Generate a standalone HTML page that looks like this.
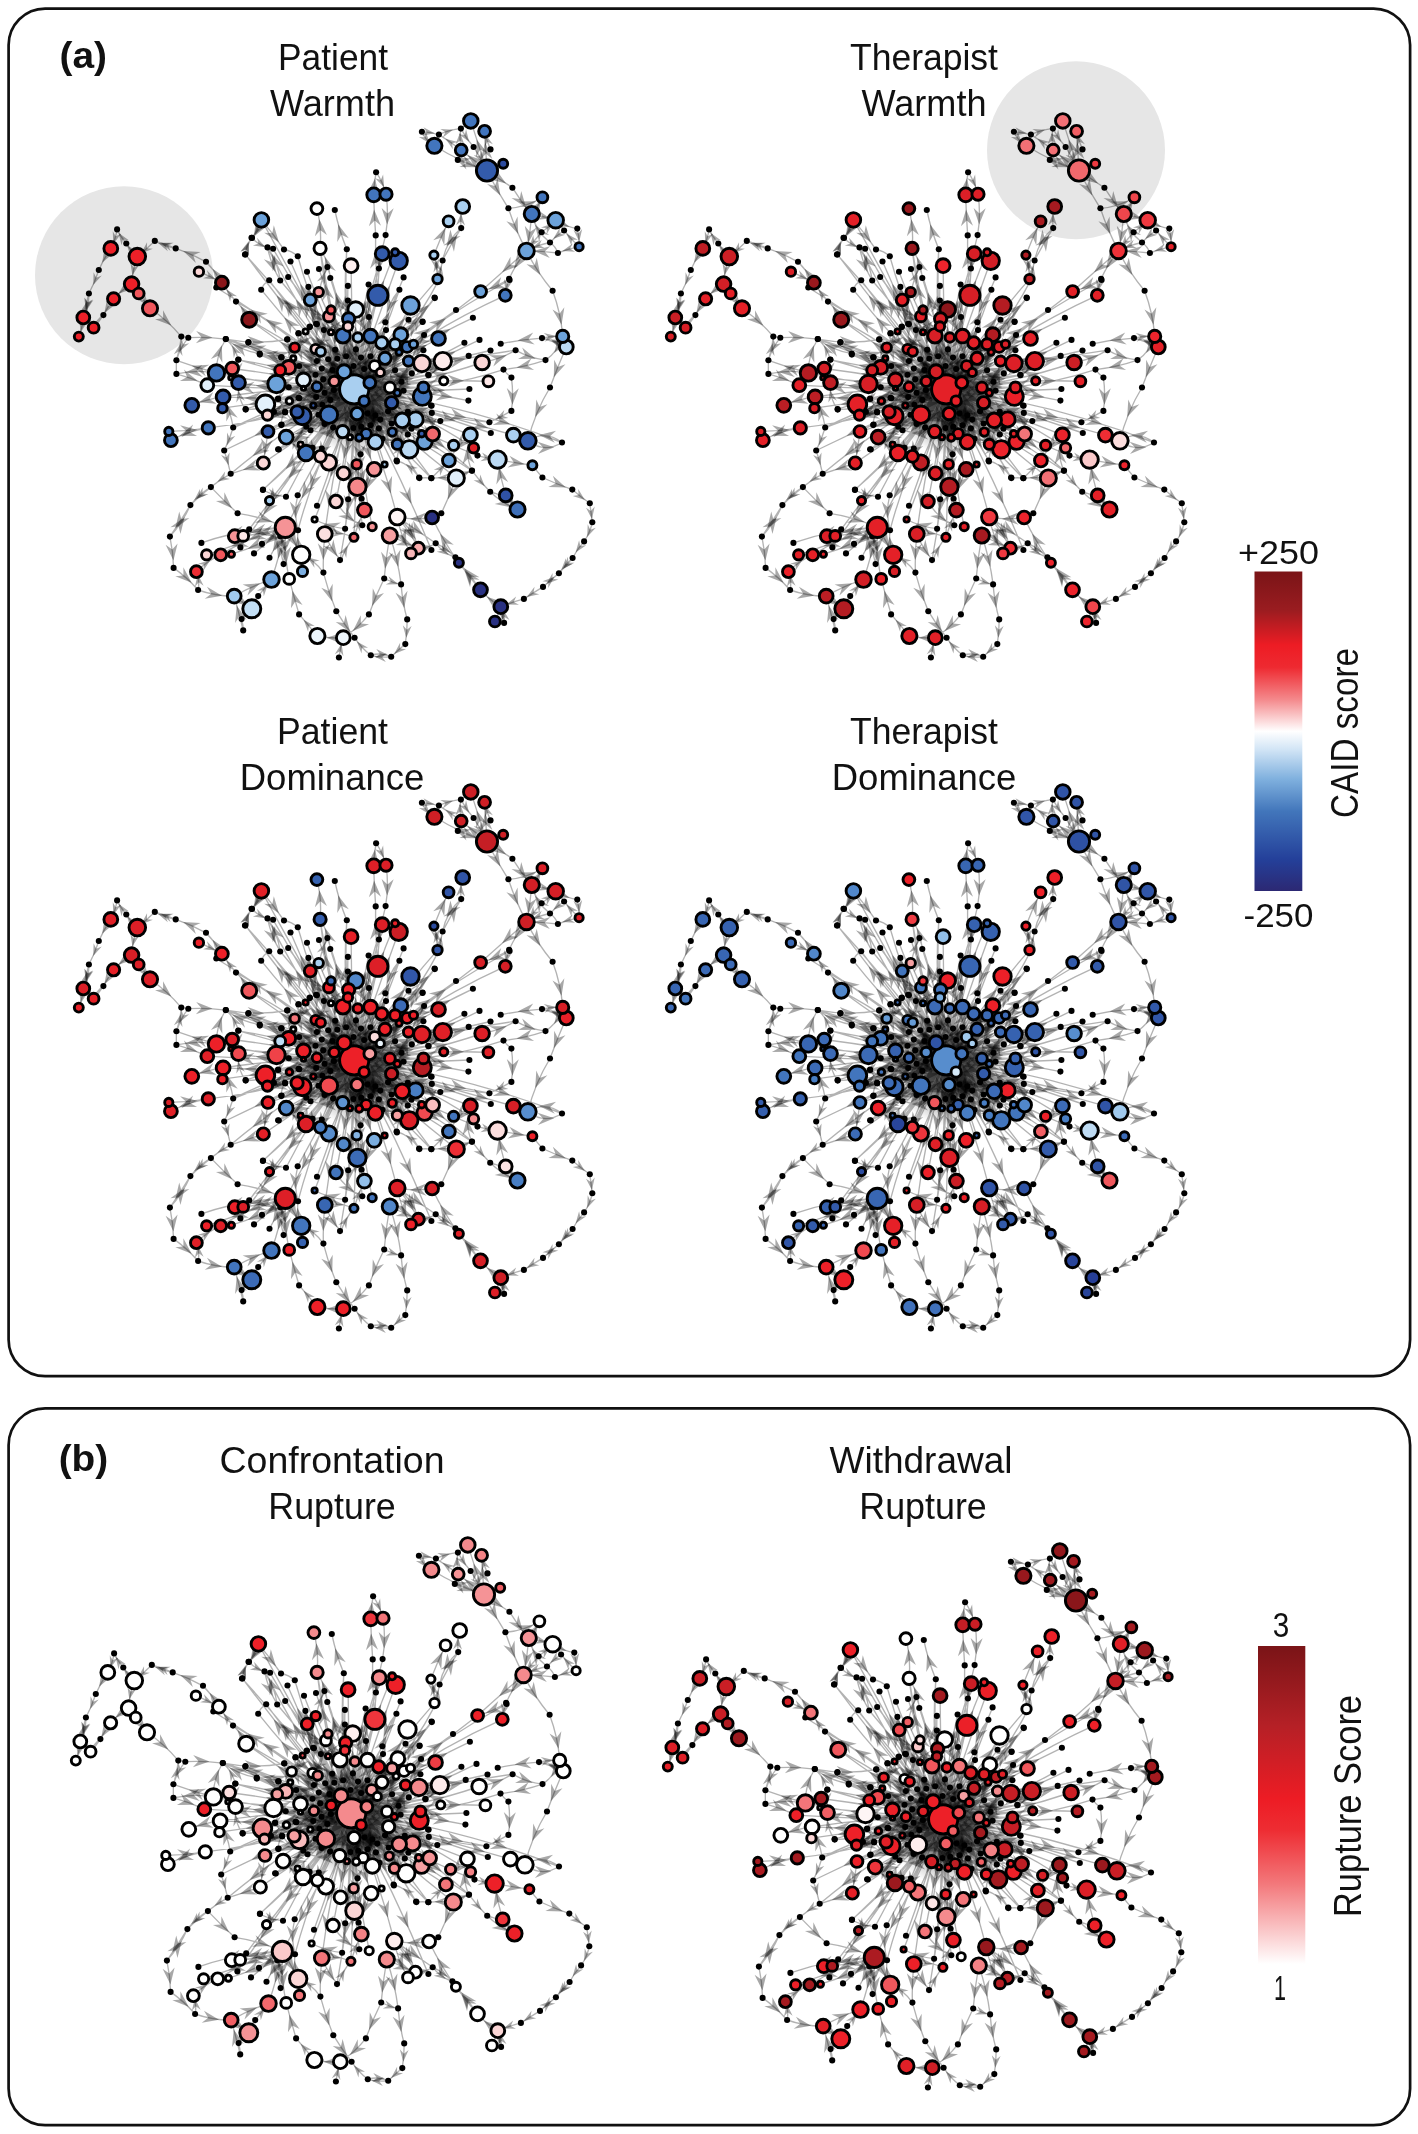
<!DOCTYPE html>
<html><head><meta charset="utf-8"><title>Figure</title>
<style>html,body{margin:0;padding:0;background:#fff}svg{display:block;filter:blur(.35px)}text{font-family:"Liberation Sans",sans-serif;fill:#111}</style>
</head><body>
<svg width="1418" height="2134" viewBox="0 0 1418 2134">
<defs>
<linearGradient id="g1" x1="0" y1="0" x2="0" y2="1">
<stop offset="0" stop-color="#7a1417"/><stop offset=".12" stop-color="#9a1c20"/><stop offset=".23" stop-color="#ed1c24"/><stop offset=".3" stop-color="#ee2a31"/><stop offset=".4" stop-color="#f4888b"/><stop offset=".5" stop-color="#ffffff"/>
<stop offset=".56" stop-color="#cfe3f5"/><stop offset=".65" stop-color="#7fb0de"/><stop offset=".75" stop-color="#4276bb"/><stop offset=".9" stop-color="#24409a"/><stop offset="1" stop-color="#2c2873"/>
</linearGradient>
<linearGradient id="g2" x1="0" y1="0" x2="0" y2="1">
<stop offset="0" stop-color="#7a1417"/><stop offset=".25" stop-color="#b52026"/><stop offset=".48" stop-color="#ed1c24"/><stop offset=".58" stop-color="#ee2d33"/><stop offset=".75" stop-color="#f3797c"/><stop offset="1" stop-color="#ffffff"/>
</linearGradient>
<radialGradient id="cg"><stop offset="0" stop-color="#000" stop-opacity=".78"/><stop offset=".4" stop-color="#000" stop-opacity=".58"/><stop offset=".7" stop-color="#000" stop-opacity=".22"/><stop offset="1" stop-color="#000" stop-opacity="0"/></radialGradient>
<path id="ah" d="M7 0L-8 -5.5L-3 0L-8 5.5Z"/>
<g id="net"><circle cx="358.2" cy="397.3" r="58" fill="url(#cg)"/><path d="M354.2 389.3Q300 357.1 249.2 319.7M354.2 389.3Q284.5 387.8 216.4 372.9M354.2 389.3Q293.6 376.3 232.2 368.5M354.2 389.3Q295.9 392.9 238.5 382.6M354.2 389.3Q292.6 382.9 230.8 377.8M354.2 389.3Q280.7 390 207.3 385.2M354.2 389.3Q289.1 401.2 223.1 396.9M354.2 389.3Q288.3 398.6 222.4 408.2M354.2 389.3Q328 321.1 320.1 248.4M354.2 389.3Q351.5 327.5 351.1 265.7M354.2 389.3Q360 319.8 382.2 253.7M354.2 389.3Q366.8 318.5 395.1 252.3M354.2 389.3Q375.1 324.6 398.7 260.8M354.2 389.3Q340.9 339.1 318.7 292.1M354.2 389.3Q361.1 341.1 377.9 295.3M354.2 389.3Q391.6 331 437.5 279.1M354.2 389.3Q333.8 343.9 310.2 300M354.2 389.3Q387.6 350.9 410.5 305.5M354.2 389.3Q355.8 349.5 355.7 309.6M354.2 389.3Q341.5 349.9 331 309.9M354.2 389.3Q346.4 351.2 328.9 316.4M354.2 389.3Q346.9 354.4 348.6 318.8M354.2 389.3Q354.2 357.6 347.9 326.5M354.2 389.3Q344.3 358.6 347.9 326.5M354.2 389.3Q345.7 363.1 343 335.7M354.2 389.3Q353.7 361.4 343 335.7M354.2 389.3Q353.7 363.2 357.8 337.5M354.2 389.3Q363.4 363 370.5 336.1M354.2 389.3Q368.3 366.2 381.7 342.8M354.2 389.3Q361.8 362.4 381.7 342.8M354.2 389.3Q375.3 360.1 400.8 334.7M354.2 389.3Q375.8 367.8 395.1 344.2M354.2 389.3Q379.5 366.8 407.1 347M354.2 389.3Q383.6 366.4 413.5 344.2M354.2 389.3Q394.9 361.5 438.5 338.5M354.2 389.3Q378.2 372.6 399.1 352.2M354.2 389.3Q368.5 372.7 385 358.3M354.2 389.3Q381.4 375.4 408.5 361.1M354.2 389.3Q388.9 378.5 421.9 363.4M354.2 389.3Q397.7 372.6 442.8 361.1M354.2 389.3Q366 379 374.7 366M354.2 389.3Q363.9 377.1 374.7 366M354.2 389.3Q367.9 381.8 380.3 372.4M354.2 389.3Q367.2 380.8 380.3 372.4M354.2 389.3Q338.9 362.2 331 332.2M354.2 389.3Q332 358.6 305.6 331.5M354.2 389.3Q324.9 367.8 294.7 347.6M354.2 389.3Q337 367.2 315.5 349.1M354.2 389.3Q337.2 366.9 315.5 349.1M354.2 389.3Q337.9 370 320.7 351.6M354.2 389.3Q323.6 374.2 293.3 358.3M354.2 389.3Q318.4 375.2 280.2 370.3M354.2 389.3Q321.4 378.6 288.7 367.4M354.2 389.3Q315 391.4 276.5 384M354.2 389.3Q329.1 383.2 303.5 379.9M354.2 389.3Q328.9 385.3 303.5 388.3M354.2 389.3Q335.5 389.2 316.9 386.8M354.2 389.3Q344.4 384.8 334.2 381.3M354.2 389.3Q344.1 385.5 334.2 381.3M354.2 389.3Q348.3 381 344.1 371.7M354.2 389.3Q346.8 381.8 344.1 371.7M354.2 389.3Q362.2 386.6 369.8 382.7M354.2 389.3Q361.5 384.8 369.8 382.7M354.2 389.3Q359.3 395 364.1 401M354.2 389.3Q371.9 386.3 389.9 387.5M354.2 389.3Q372.8 396.3 391.6 402.7M354.2 389.3Q375.6 393 397.3 392.8M354.2 389.3Q388.7 386.2 423.4 387.4M354.2 389.3Q388.4 391.5 422.3 396.4M354.2 389.3Q308.8 391.1 265.4 404.3M354.2 389.3Q312.1 406.4 267.5 415.1M354.2 389.3Q322.3 398.1 289.4 401M354.2 389.3Q322.7 400.3 289.4 401M354.2 389.3Q333.8 397.5 313.3 405.5M354.2 389.3Q326.4 402.5 297.1 411.9M354.2 389.3Q326.2 402 297.1 411.9M354.2 389.3Q328.8 403.6 302.4 416M354.2 389.3Q339.9 400.4 328.9 414.7M354.2 389.3Q355.6 401.5 357.1 413.7M354.2 389.3Q310.1 408.3 268 431.5M354.2 389.3Q323.2 417.5 286.2 437.2M354.2 389.3Q376.5 407.5 402.2 420.3M354.2 389.3Q383.3 407.6 415.6 419.4M354.2 389.3Q349.1 410.6 342.7 431.6M354.2 389.3Q362.7 410.8 366.2 433.7M354.2 389.3Q359.7 413.2 359.2 437.7M354.2 389.3Q360.9 413.1 359.2 437.7M354.2 389.3Q354.4 413.5 350 437.3M354.2 389.3Q358.5 413.9 350 437.3M354.2 389.3Q368.5 414.1 375.4 441.9M354.2 389.3Q371.1 413.1 375.4 441.9M354.2 389.3Q374.1 409.9 392.3 432M354.2 389.3Q368.5 414.9 392.3 432M354.2 389.3Q374.9 417.5 397.3 444.3M354.2 389.3Q379.8 413.6 397.3 444.3M354.2 389.3Q383 418.1 409.3 449.3M354.2 389.3Q388.8 410.2 421.7 433.7M354.2 389.3Q395.8 407.5 432.6 434M354.2 389.3Q386.8 419 424.5 441.8M354.2 389.3Q325.7 417.8 306 453M354.2 389.3Q327.7 417.2 300.6 444.5M354.2 389.3Q337.5 422.9 320.4 456.3M354.2 389.3Q345.8 427.4 328.9 462.5M354.2 389.3Q312.9 431.2 263.3 463M354.2 389.3Q350.7 431.5 343.5 473.3M354.2 389.3Q357.9 426.7 356.7 464.3M354.2 389.3Q360.5 430.2 374.2 469.3M354.2 389.3Q373 425.5 384.6 464.5M354.2 389.3Q362.3 437.8 357.4 486.8M354.2 389.3Q419.8 384 482.1 362.5M354.2 389.3Q399 385.4 443.7 380.8M354.2 389.3Q420.9 378.7 488.4 381.3M354.2 389.3Q412 412.8 470.4 434.9M354.2 389.3Q417.8 410.6 473.6 447.8M354.2 389.3Q433.6 412.8 513.4 435.1M354.2 389.3Q400.1 424 453.6 445.3M354.2 389.3Q397.9 429.7 448.9 460.5M354.2 389.3Q402.8 436.5 456.3 478M354.2 389.3Q315.6 447.8 269.5 500.6M354.2 389.3Q347.2 445.8 336 501.6M354.2 389.3Q340.5 456.2 314.6 519.5M354.2 389.3Q334 460.5 324.8 534M354.2 389.3Q358.7 449.7 364.4 510.1M354.2 389.3Q357.8 458.7 372.2 526.7M354.2 389.3Q357.6 463.3 353.9 537.3M354.2 389.3Q380.7 451.5 397.3 517.1M354.2 389.3Q289.7 332.4 216.3 287.5M354.2 389.3Q301.1 337.4 236 301.6M354.2 389.3Q292.4 357.9 225.7 339.1M354.2 389.3Q303.3 361.4 248.3 342.6M354.2 389.3Q297.6 369.4 238.4 359.8M354.2 389.3Q304.1 318.2 245 254.5M354.2 389.3Q305.4 321.7 267.5 247.4M354.2 389.3Q314 318.8 273.1 248.8M354.2 389.3Q297.1 324.1 245.4 254.4M354.2 389.3Q341.3 319.7 346.8 249.2M354.2 389.3Q317.2 326.5 297.8 256.3M354.2 389.3Q318.4 327.4 290.5 261.5M354.2 389.3Q362.5 328.1 378.9 268.5M354.2 389.3Q339.8 328.2 319 269M354.2 389.3Q348.6 326.5 327.4 267.1M354.2 389.3Q329.7 330.9 307 271.8M354.2 389.3Q349.1 332.2 330.3 278M354.2 389.3Q328.9 328.6 288.2 277M354.2 389.3Q324.1 330.2 280.2 280.5M354.2 389.3Q309.6 336.4 269.2 280.2M354.2 389.3Q303.8 343.1 261.2 289.7M354.2 389.3Q327.4 339.9 308.4 286.9M354.2 389.3Q346.7 337.9 347.9 285.9M354.2 389.3Q357.1 336.3 368.6 284.5M354.2 389.3Q380.8 334.2 403.6 277.4M354.2 389.3Q382.4 342 399.4 289.7M354.2 389.3Q398.8 347.2 434.6 297.5M354.2 389.3Q350.8 344.9 347.9 300.5M354.2 389.3Q382.8 355.7 408.5 319.8M354.2 389.3Q391.2 358.3 422.6 321.6M354.2 389.3Q365.9 354 385.3 322.3M354.2 389.3Q363.2 353.5 369 317M354.2 389.3Q373.5 361.5 386 330.1M354.2 389.3Q391.1 364.6 424.1 335M354.2 389.3Q335 356.6 316.2 323.7M354.2 389.3Q329.2 359.9 309.8 326.5M354.2 389.3Q328.6 359 298.5 333.3M354.2 389.3Q337.7 360.4 323.9 330.1M354.2 389.3Q324 359.8 287.2 339.2M354.2 389.3Q300.7 367.2 248.5 342.1M354.2 389.3Q306.5 372.8 259.7 353.6M354.2 389.3Q319.9 368.8 281.6 357.3M354.2 389.3Q327.4 375.9 299.2 366M354.2 389.3Q324.1 383.8 299.2 366M354.2 389.3Q334.2 377 316.9 361.1M354.2 389.3Q338.9 377.6 321.8 368.6M354.2 389.3Q340 375.8 321.8 368.6M354.2 389.3Q335.8 379.4 315.5 374.8M354.2 389.3Q338.5 385 323.2 379.4M354.2 389.3Q339.7 375.6 328.2 359.3M354.2 389.3Q345.4 370.6 328.2 359.3M354.2 389.3Q346.4 373.6 337.3 358.7M354.2 389.3Q347.1 368.4 335.2 349.8M354.2 389.3Q351.9 372.3 346.1 356.2M354.2 389.3Q352.9 377.7 353.5 366M354.2 389.3Q352.4 377.7 353.5 366M354.2 389.3Q353.6 369.3 355.9 349.4M354.2 389.3Q356.5 373.2 361 357.6M354.2 389.3Q360.6 371.9 370.5 356.2M354.2 389.3Q358.7 379 364.1 369.1M354.2 389.3Q343.5 379.4 332.4 370M354.2 389.3Q374.4 379.3 395.1 370.3M354.2 389.3Q377.9 385.6 401.5 381.8M354.2 389.3Q378.9 390.2 403.6 390.7M354.2 389.3Q378.9 389.1 403.6 390.7M354.2 389.3Q382.3 378.8 411.8 373.4M354.2 389.3Q384.4 386.5 411.8 373.4M354.2 389.3Q390.6 378.7 428.3 374.8M354.2 389.3Q388.7 369.5 423.4 350.2M354.2 389.3Q392.1 399.8 431.1 405.5M354.2 389.3Q392.8 401.7 431.8 412.9M354.2 389.3Q381.6 399.3 407.8 411.9M354.2 389.3Q371 400.5 388.1 411.2M354.2 389.3Q374.8 404.4 391.6 423.6M354.2 389.3Q367.9 408 378.9 428.4M354.2 389.3Q363.4 410.9 378.9 428.4M354.2 389.3Q362.3 407.3 370.5 425.3M354.2 389.3Q360 401.8 367.6 413.3M354.2 389.3Q365 402.2 375.4 415.4M354.2 389.3Q367.2 404.5 380.3 419.6M354.2 389.3Q352.8 408.7 353.5 428.1M354.2 389.3Q357.6 408 361.3 426.7M354.2 389.3Q341.3 407 333.1 427.4M354.2 389.3Q337.6 405 324.6 423.9M354.2 389.3Q337.1 403.2 318.3 414.7M354.2 389.3Q337.4 395.1 322.5 404.8M354.2 389.3Q335.6 395.1 316.2 397.1M354.2 389.3Q335.3 393.9 316.2 397.1M354.2 389.3Q339.6 392.8 324.6 392.8M354.2 389.3Q339.8 394.8 324.6 392.8M354.2 389.3Q342 394 330.3 399.9M354.2 389.3Q344 388.5 333.8 390M354.2 389.3Q344 388.3 333.8 390M354.2 389.3Q326.2 392.3 298.5 397.8M354.2 389.3Q325.4 387.2 298.5 397.8M354.2 389.3Q315.5 388.9 278.1 398.5M354.2 389.3Q321.4 390.8 288.7 387.2M354.2 389.3Q320 401.6 285.1 411.9M354.2 389.3Q314.1 400.7 273.9 411.9M354.2 389.3Q298.5 391.8 245.6 409.1M354.2 389.3Q316.3 403.6 281.6 424.6M354.2 389.3Q332 410.3 306.3 426.7M354.2 389.3Q332.3 409.7 310.5 430.2M354.2 389.3Q336.1 413.7 310.5 430.2M354.2 389.3Q317.7 421.2 278.1 449.3M354.2 389.3Q355.4 421.9 360.6 454.2M354.2 389.3Q356.3 421.9 360.6 454.2M354.2 389.3Q376 424.5 396.6 460.5M354.2 389.3Q384 408.3 407.8 434.5M354.2 389.3Q383.7 407.7 411.4 428.8M354.2 389.3Q397.2 405.3 440.3 421.1M354.2 389.3Q392 429.4 419.1 477.5M354.2 389.3Q334 416.7 321.8 448.6M354.2 389.3Q329.5 415.9 312.6 447.9M354.2 389.3Q371.1 412.4 382.5 438.7M354.2 389.3Q375.2 410.1 382.5 438.7M354.2 389.3Q398.1 346.8 434.8 298.1M354.2 389.3Q402.6 346.4 456 310M354.2 389.3Q409.8 347.4 472.9 317.8M354.2 389.3Q387.6 354.9 422.5 322M354.2 389.3Q412 372.4 464.4 342.8M354.2 389.3Q419.1 370.2 479.5 339.9M354.2 389.3Q421 365.3 490.5 350.5M354.2 389.3Q433 361.8 515.6 350.2M354.2 389.3Q413.4 379.3 468.7 355.9M354.2 389.3Q391.5 383 428.5 375.2M354.2 389.3Q411.8 392.4 469.4 389M354.2 389.3Q411.9 388.4 468.4 400.6M354.2 389.3Q393.9 392.8 431.6 405.8M354.2 389.3Q420.9 409.3 489.4 422.2M354.2 389.3Q423 409.7 490.8 433M354.2 389.3Q461.3 403.5 562 442.5M354.2 389.3Q411.8 430 477.5 455.6M354.2 389.3Q411.5 432.2 471.9 470.7M354.2 389.3Q389 437 431.3 478.2M354.2 389.3Q425.5 325.6 509.6 280M354.2 389.3Q288.2 425.4 230.7 473.8M354.2 389.3Q314.7 445 263 489.6M354.2 389.3Q314.6 439.5 286 496.7M354.2 389.3Q326.6 442.7 297.7 495.3M354.2 389.3Q338.2 448.4 317 505.8M354.2 389.3Q296.1 467.5 240.4 547.4M354.2 389.3Q317.7 456.4 298 530.2M354.2 389.3Q322 465.2 280.3 536.2M354.2 389.3Q356 475.4 340 560.1M354.2 389.3Q301.2 459 249.2 529.4M354.2 389.3Q378.2 423.8 396.9 461.4M354.2 389.3Q391.7 430.1 419.4 478.1M354.2 389.3Q397 430 431.4 478.1M354.2 389.3Q418.2 422.5 472 470.6M354.2 389.3Q355.8 444.5 348.2 499.2M354.2 389.3Q360.8 443.9 361.6 498.8M354.2 389.3Q353.5 459.2 345.1 528.7M354.2 389.3Q353.3 457.5 362.3 525.2M354.2 389.3Q397.5 467.4 431.4 550M354.2 389.3Q290.1 364.1 225.9 339M354.2 389.3Q305.4 376.2 259.8 354.6M354.2 389.3Q295.6 376.9 238.3 359.5M354.2 389.3Q317.4 368.9 287.3 339.5M354.2 389.3Q316.6 375.9 281.2 357.4M354.2 389.3Q301.3 406.8 245.7 409.6M354.2 389.3Q292.5 404.5 233.2 427.5M354.2 389.3Q288.8 419 224.2 450.5M354.2 389.3Q312.9 443.6 262.9 490M354.2 389.3Q316.7 419.7 278.8 449.5M354.2 389.3Q315.5 402.8 281.2 425.1M354.2 389.3Q320.9 404.7 285.1 412.4M354.2 389.3Q315.7 390.8 278.1 399M354.2 389.3Q326.8 394.3 299.3 398.3M354.2 389.3Q329 358.7 298.5 333.4M354.2 389.3Q331.1 358.9 309.8 327.1M354.2 389.3Q335.6 356.7 316.9 324.2M354 389Q304.2 350.4 249.2 319.7M249.2 319.7Q244.3 309.4 236 301.6M236 301.6Q228.4 292.6 221.9 282.7M221.9 282.7Q215.3 271.2 206 261.8M206 261.8Q191.4 253.8 175.7 248.4M175.7 248.4Q165.5 244.1 154.8 240.9M154.8 240.9Q146.3 249.1 137.3 256.6M198.9 271.7Q210.7 276.5 221.9 282.7M137.3 256.6Q130.6 251 126.3 243.5M126.3 243.5Q120.7 237.1 117.1 229.4M117.1 229.4Q115.6 239.4 110.8 248.4M110.8 248.4Q103.8 258.6 98.8 270M98.8 270Q95 282.2 88.9 293.5M88.9 293.5Q87.7 305.9 83.3 317.5M83.3 317.5Q82.6 327.4 78.8 336.6M137.3 256.6Q132.6 270 131.6 284.1M131.6 284.1Q121.5 290.1 113.6 298.8M113.6 298.8Q107.9 306.6 103.4 315.1M103.4 315.1Q99 321.8 93.6 327.7M83.3 317.5Q89 322.1 93.6 327.7M131.6 284.1Q135.5 288.5 138.7 293.5M138.7 293.5Q144.5 300.8 150 308.3M150 308.3Q167.6 320.3 181.3 336.6M181.3 336.6Q184.8 337.1 188.3 337.7M188.3 337.7Q207.1 336.6 225.7 339.1M225.7 339.1Q256.5 345 287.3 339.5M188.3 337.7Q180.2 347.9 176.4 360.3M176.4 360.3Q176.3 367.1 176.4 373.9M176.4 373.9Q192.4 378 207.3 385.2M354 389Q406.9 342 439.3 279.1M439.3 279.1Q440.2 269.7 442.6 260.5M442.6 260.5Q451 243.8 461.2 228.1M461.2 228.1Q459.8 217.2 462.7 206.5M433.9 255.1Q440.4 237.9 448.6 221.3M487 170.5Q478.6 145.8 470.8 120.9M487 170.5Q485.8 150.9 484.6 131.3M487 170.5Q459.2 161.3 434.4 145.8M487 170.5Q474.1 160.3 461.2 150.1M487 170.5Q494.4 165.5 503.2 163.8M421.9 131.7Q430.5 132.3 438.9 134.6M438.9 134.6Q449.4 129.8 460.9 128.6M460.9 128.6Q465.7 124.6 470.8 120.9M434.4 145.8Q435.6 139.8 438.9 134.6M461.2 150.1Q459 139.4 460.9 128.6M473.6 147Q481.2 158.2 487 170.5M490.5 149.4Q486.6 140.7 484.6 131.3M457.8 159.9Q472.2 165.7 487 170.5M487 170.5Q499.6 179.2 512.4 187.7M512.4 187.7Q520.8 201.8 531.8 214M487 170.5Q496.5 190.1 508.4 208.3M508.4 208.3Q515.6 230.4 526.5 250.9M531.8 214Q538.4 206.5 542.4 197.3M531.8 214Q543.9 216.6 555.7 220.2M531.8 214Q530.4 232.6 526.5 250.9M555.7 220.2Q565.7 226.5 577.3 228.6M577.3 228.6Q579.5 237.5 579.1 246.7M579.1 246.7Q568.2 248.9 557.9 253M557.9 253Q542.3 251.1 526.5 250.9M555.7 220.2Q560.8 224.6 564.1 230.5M564.1 230.5Q556.2 235.6 550 242.5M550 242.5Q537.6 244.9 526.5 250.9M541.6 232.3Q533.6 241.2 526.5 250.9M541.6 232.3Q549.2 226.9 555.7 220.2M526.5 250.9Q537.1 272.4 552.6 290.7M552.6 290.7Q560.9 312.8 562.7 336.4M526.5 250.9Q503.4 271 480.6 291.5M480.6 291.5Q417.2 340.1 354 389M526.5 250.9Q515.9 263.7 509.1 278.8M509.1 278.8Q506.2 286.8 505.3 295.3M505.3 295.3Q423.5 332.3 354 389M566.3 347Q557.5 367 550 387.5M550 387.5Q534.8 412.4 527.9 440.8M566.3 347Q554.5 341.7 542 338.1M542 338.1Q521.1 339.4 500.7 343.8M545.5 360.1Q525 367.1 503.5 369.6M503.5 369.6Q430.6 393.3 354 389M511.4 377.6Q513.8 394.2 511.4 410.9M511.4 410.9Q500.7 417.2 489.4 422.2M489.4 422.2Q419.1 416.3 354 389M503.5 369.6Q506.9 374.1 511.4 377.6M497.6 459.6Q514.9 462.8 532.4 465.2M532.4 465.2Q537.1 471.6 542.4 477.5M542.4 477.5Q557 484.3 572.3 489.6M572.3 489.6Q580.6 497.1 589.8 503.3M589.8 503.3Q591.1 512.8 592.3 522.3M592.3 522.3Q590.1 532.7 584.1 541.4M584.1 541.4Q577.4 549 572.6 558M572.6 558Q565 565 558.9 573.3M558.9 573.3Q550.9 580.1 543 586.9M543 586.9Q533.4 592.8 523.9 598.9M523.9 598.9Q512.1 602.1 500.8 606.7M500.8 606.7Q489.2 600 480.5 589.8M480.5 589.8Q471 575.2 458.9 562.7M458.9 562.7Q443.3 541.4 432.1 517.5M432.1 517.5Q414.7 520.3 397.3 517.1M500.8 606.7Q498.5 614.4 494.9 621.5M500.8 606.7Q501.7 615 504.1 622.9M456.3 478Q463.7 473.4 472 470.6M472 470.6Q480.1 482 490.2 491.7M490.2 491.7Q497.6 495 505.7 495.4M505.7 495.4Q511.6 502.4 517.5 509.5M456.3 478Q449.6 496 441.3 513.3M441.3 513.3Q436.7 515.4 432.1 517.5M456.3 478Q443.8 477.1 431.4 478.1M431.4 478.1Q425.4 477.5 419.4 478.1M389.8 535.5Q386 556.9 384.2 578.5M384.2 578.5Q375.5 596 368.9 614.4M368.9 614.4Q358.1 628.2 343.3 637.7M343.3 637.7Q330.2 638.7 317.4 636M389.8 535.5Q397.9 559.4 401.1 584.4M401.1 584.4Q402.4 602.2 407.2 619.4M407.2 619.4Q407.2 631.8 405.3 644.1M405.3 644.1Q398.1 650.3 391.2 656.8M391.2 656.8Q380.9 658 370.8 655.3M370.8 655.3Q361.2 647.9 354.6 637.7M354.6 637.7Q349 638.2 343.3 637.7M324.8 534Q322.8 553.3 323.4 572.6M323.4 572.6Q328.4 592.4 336.3 611.2M336.3 611.2Q344.5 625.1 354.6 637.7M338.9 657.5Q340.3 647.4 343.3 637.7M317.4 636Q308.3 625.1 299.1 614.4M299.1 614.4Q293.9 596.7 289.2 578.9M397.3 517.1Q416.7 529.9 435.7 543.2M435.7 543.2Q446.6 548.7 455.4 557.3M455.4 557.3Q456.7 560.3 458.9 562.7M397.3 517.1Q409.7 531.4 418.4 548.2M397.3 517.1Q400.7 536.6 411 553.4M324.8 534Q330.6 548.7 341 560.5M341 560.5Q345.2 547.7 353.9 537.3M263.3 463Q247.1 468.7 230.7 473.8M230.7 473.8Q219.9 479.2 210.9 487.1M210.9 487.1Q199 494.2 190.4 505.1M190.4 505.1Q180.5 521.1 169.9 536.6M169.9 536.6Q173.2 552.1 173.6 567.9M173.6 567.9Q187.1 577.5 198.1 590M198.1 590Q215.6 596.3 234.2 596.1M234.2 596.1Q251.9 585.7 271.5 579.6M210.9 487.1Q223.8 500.6 237.6 513.3M237.6 513.3Q262.5 516.9 285.3 527.4M234.2 596.1Q242.9 602.5 251.8 608.8M251.8 608.8Q245.8 613 241.6 619.1M241.6 619.1Q243.2 624.6 243.2 630.4M251.8 608.8Q255.8 602.9 258.2 596.1M258.2 596.1Q264.9 587.9 271.5 579.6M285.3 527.4Q242.2 528.7 201.4 542.9M285.3 527.4Q259.7 529.7 234.8 536.2M285.3 527.4Q264.7 533.9 243.2 535.9M285.3 527.4Q250.8 536 220.7 554.8M285.3 527.4Q246 541.3 206.6 554.8M196.4 571.7Q206.9 560.9 220.7 554.8M285.3 527.4Q261 546.2 231.4 554.2M285.3 527.4Q269.7 540.5 254 553.4M285.3 527.4Q277.7 542.7 269.5 557.7M285.3 527.4Q285.9 545.8 283.6 564.1M285.3 527.4Q274.8 537.3 262 543.9M285.3 527.4Q294.1 540.6 301.2 554.8M285.3 527.4Q280.3 554 271.5 579.6M285.3 527.4Q283.7 553.4 289.2 578.9M301.2 554.8Q303.5 563 302.5 571.4M354 389Q288.2 386.4 223.1 396.9M223.1 396.9Q206.9 399 191.8 405.3M354 389Q284.1 419.5 208.3 427.9M208.3 427.9Q188.6 430.9 170.9 440.2M168.8 431.4Q188.7 431.3 208.3 427.9M354 389Q290.5 398.5 233.2 427.5M233.2 427.5Q229.7 439.4 224.2 450.5M224.2 450.5Q228 462 230.7 473.8M216.4 372.9Q196.1 367.5 176.4 360.3M216.4 372.9Q196.3 369.4 176.4 373.9M354 389Q367.6 342.6 377.9 295.3M377.9 295.3Q375.1 265.4 375.7 235.4M375.7 235.4Q374.1 215.1 373.7 194.8M373.7 194.8Q373.9 183.4 376.1 172.2M376.1 172.2Q383 182.3 386 194.2M386 194.2Q389.1 214.7 385.6 235.1M385.6 235.1Q377.7 264.7 377.9 295.3M354 389Q331 320.2 320.1 248.4M320.1 248.4Q322 228.2 316.9 208.6M354 389Q343.4 319.5 346.8 249.2M346.8 249.2Q339 230.2 334.8 210M354 389Q308.1 304.2 261.4 219.9M261.4 219.9Q257.8 229.5 252 237.9M261.4 219.9Q273.4 234.1 284 249.5M527.9 440.8Q544.4 453.6 562 442.5M562 442.5Q545.5 429.7 527.9 440.8M83.3 317.5Q85.6 305.4 88.9 293.5M216.4 372.9Q216.1 354.5 225.9 339M261.4 219.9Q259.8 230.5 252 237.9M433.9 255.1Q437.2 266.9 437.5 279.1M318.7 292.1Q321.7 279.1 327.4 267.1M437.5 279.1Q438.1 266.7 433.9 255.1M461.2 150.1Q450.5 141.7 438.9 134.6M579.1 246.7Q570.9 239.3 564.1 230.5M355.7 309.6Q360.9 324.1 370.5 336.1M347.9 326.5Q335.3 324.2 323.9 330.1M395.1 344.2Q404.3 344.4 413.5 344.2M442.8 361.1Q437.8 370.3 428.5 375.2M380.3 372.4Q393.4 379.7 403.6 390.7M331 332.2Q323.1 340.5 315.5 349.1M315.5 349.1Q318.5 358.9 321.8 368.6M280.2 370.3Q284.9 385.1 278.1 399M334.2 381.3Q331.4 365.4 335.2 349.8M344.1 371.7Q329.5 370.9 315.5 374.8M369.8 382.7Q374.2 369.6 370.5 356.2M389.9 387.5Q376.1 392.5 364.1 401M397.3 392.8Q405.4 377.8 408.5 361.1M267.5 415.1Q276.6 415.2 285.1 411.9M313.3 405.5Q308.6 411.6 302.4 416M302.4 416Q286.7 427 268 431.5M357.1 413.7Q340.9 418.9 324.6 423.9M268 431.5Q265.8 447.3 263.3 463M402.2 420.3Q388.1 421.6 375.4 415.4M342.7 431.6Q326.4 435.5 310.5 430.2M366.2 433.7Q359.1 424.8 357.1 413.7M392.3 432Q406.1 429.7 415.6 419.4M409.3 449.3Q396.9 441.4 382.5 438.7M421.7 433.7Q414.6 432.2 407.8 434.5M306 453Q294.7 446.8 286.2 437.2M328.9 462.5Q313.9 454.9 300.6 444.5M374.2 469.3Q368.2 484.2 361.6 498.8M482.1 362.5Q500 359.5 515.6 350.2M562.7 336.4Q558.5 351.4 545.5 360.1M566.3 347Q555.2 339.6 542 338.1M470.4 434.9Q457.1 445.6 448.9 460.5M336 501.6Q345.2 517.8 362.3 525.2M324.8 534Q339.9 531.1 353.9 537.3M301.2 554.8Q296.5 542.9 298 530.2M353.9 537.3Q358 523.2 364.4 510.1M397.3 517.1Q413.3 529 418.4 548.2M389.8 535.5Q403.9 542.4 418.4 548.2M418.4 548.2Q427.8 548.4 435.7 543.2M505.7 495.4Q500.5 477.8 497.6 459.6M480.5 589.8Q468.8 577 458.9 562.7M175.7 248.4Q164.6 246.4 154.8 240.9M88.9 293.5Q89.1 306.2 83.3 317.5M103.4 315.1Q96.6 319.9 93.6 327.7M176.4 360.3Q180.3 348.8 181.3 336.6M238.4 359.8Q235.3 347.5 225.9 339M251.5 237.8Q260.5 246.9 273.1 248.8M245 254.5Q246.7 245.5 252 237.9M421.9 131.7Q425.7 140.9 434.4 145.8M267.5 247.4Q271.1 265 280.2 280.5M284 249.5Q291.9 250.9 297.8 256.3M245.4 254.4Q245.7 244.9 252 237.9M330.3 278Q328.7 262 320.1 248.4M280.2 280.5Q277.8 262.4 267.5 247.4M261.2 289.7Q263.6 283.6 269.2 280.2M308.4 286.9Q315.7 304.6 316.2 323.7M399.4 289.7Q387.3 303.8 385.3 322.3M460.9 128.6Q466.2 138.5 473.6 147M508.4 208.3Q526.8 207.2 542.4 197.3M550 242.5Q535.8 231.5 531.8 214M557.9 253Q555.7 246.5 550 242.5M461.2 228.1Q446.4 241.1 442.6 260.5M509.1 278.8Q496 287.6 480.6 291.5M408.5 319.8Q423.9 311.6 434.8 298.1M424.1 335Q418.2 349.2 408.5 361.1M298.5 333.3Q308.6 343.7 320.7 351.6M259.7 353.6Q240.9 350.6 225.9 339M281.6 357.3Q271.3 351.6 259.7 353.6M299.2 366Q289.2 354.4 287.2 339.2M316.9 361.1Q332.4 361.4 344.1 371.7M323.2 379.4Q312.6 390.5 299.3 398.3M361 357.6Q363.8 370.7 369.8 382.7M332.4 370Q320.7 385.5 322.5 404.8M431.8 412.9Q432.8 423.4 432.6 434M407.8 411.9Q419.8 412.4 431.8 412.9M391.6 423.6Q372.7 424.4 357.1 413.7M375.4 415.4Q392.2 418.8 407.8 411.9M361.3 426.7Q361.8 419.4 357.1 413.7M318.3 414.7Q324 401 333.8 390M333.8 390Q317 396.2 299.3 398.3M278.1 398.5Q282.9 404.8 285.1 412.4M285.1 411.9Q293 423.2 306.3 426.7M306.3 426.7Q310.1 418.5 318.3 414.7M310.5 430.2Q298 432.4 286.2 437.2M419.1 477.5Q411 464.8 396.6 460.5M515.6 350.2Q529.5 358.3 545.5 360.1M542 338.1Q552.2 335.6 562.7 336.4M431.6 405.8Q418.3 397 403.6 390.7M477.5 455.6Q487.4 458.5 497.6 459.6M471.9 470.7Q464 453.1 470.4 434.9M431.3 478.2Q440.3 469.6 448.9 460.5M210.9 487.1Q199.8 495.1 190.4 505.1M169.9 536.6Q182.8 522.6 190.4 505.1M198.1 590Q200 580.6 196.4 571.7M297.7 495.3Q293.4 512.8 298 530.2M283.6 564.1Q277.8 545.4 285.3 527.4M323.4 572.6Q315.2 560 301.2 554.8M258.2 596.1Q249.4 607.3 241.6 619.1M243.2 630.4Q239 613.2 234.2 596.1M396.9 461.4Q397.5 446 407.8 434.5M490.2 491.7Q502.1 503.3 517.5 509.5M345.1 528.7Q329 527 314.6 519.5M435.7 543.2Q443.2 553.6 455.4 557.3M384.2 578.5Q392.2 582.7 401.1 584.4M370.8 655.3Q381.3 652.1 391.2 656.8M504.1 622.9Q505.3 614.2 500.8 606.7M572.6 558Q565.9 565.8 558.9 573.3M543 586.9Q550.6 579.7 558.9 573.3M238.3 359.5Q237.8 371.1 238.5 382.6M287.3 339.5Q303.2 339 315.5 349.1M281.2 357.4Q285.6 361.9 288.7 367.4M245.7 409.6Q237 397.5 238.5 382.6M233.2 427.5Q230.6 411.4 223.1 396.9M262.9 490Q273.7 495.8 286 496.7M278.8 449.5Q296.1 442.4 306.3 426.7M281.2 425.1Q281.1 417.9 285.1 411.9M285.1 412.4Q273.7 412 265.4 404.3M309.8 327.1Q301.8 342.9 293.3 358.3M316.9 324.2Q330.9 327.8 343 335.7" fill="none" stroke="#000" stroke-opacity=".3" stroke-width="1.35"/><g fill="#000" fill-opacity=".34"><use href="#ah" transform="translate(286.8 346.4) rotate(-145.7) scale(1.1)"/><use href="#ah" transform="translate(269 382.4) rotate(-171.9) scale(1.1)"/><use href="#ah" transform="translate(276.6 374.8) rotate(-171) scale(1.1)"/><use href="#ah" transform="translate(263.5 386.4) rotate(-172.8) scale(1.1)"/><use href="#ah" transform="translate(284.9 382.5) rotate(-174.7) scale(1.1)"/><use href="#ah" transform="translate(245.5 387.3) rotate(-177.4) scale(1.1)"/><use href="#ah" transform="translate(252.4 398) rotate(-179.4) scale(1.1)"/><use href="#ah" transform="translate(256.4 403.3) rotate(171.8) scale(1.1)"/><use href="#ah" transform="translate(326.5 291.5) rotate(-100.6) scale(1.1)"/><use href="#ah" transform="translate(351.6 306.6) rotate(-91.1) scale(1.1)"/><use href="#ah" transform="translate(367.8 304.2) rotate(-76.7) scale(1.1)"/><use href="#ah" transform="translate(381.3 287.5) rotate(-70.3) scale(1.1)"/><use href="#ah" transform="translate(386.9 293.1) rotate(-70.3) scale(1.1)"/><use href="#ah" transform="translate(336.6 334.3) rotate(-110.7) scale(1.1)"/><use href="#ah" transform="translate(368.2 324.9) rotate(-73.7) scale(1.1)"/><use href="#ah" transform="translate(400 324.4) rotate(-52.3) scale(1.1)"/><use href="#ah" transform="translate(325.5 329.4) rotate(-116.9) scale(1.1)"/><use href="#ah" transform="translate(388.4 343.9) rotate(-57) scale(1.1)"/><use href="#ah" transform="translate(355.6 334.2) rotate(-89.4) scale(1.1)"/><use href="#ah" transform="translate(336.8 331.6) rotate(-105.5) scale(1.1)"/><use href="#ah" transform="translate(336.8 333.5) rotate(-113.1) scale(1.1)"/><use href="#ah" transform="translate(348.4 340.5) rotate(-91.7) scale(1.1)"/><use href="#ah" transform="translate(351.8 350.1) rotate(-97.1) scale(1.1)"/><use href="#ah" transform="translate(347 348.2) rotate(-91.8) scale(1.1)"/><use href="#ah" transform="translate(345.3 353.1) rotate(-99.6) scale(1.1)"/><use href="#ah" transform="translate(349.6 355.5) rotate(-104.5) scale(1.1)"/><use href="#ah" transform="translate(356 351) rotate(-83.6) scale(1.1)"/><use href="#ah" transform="translate(363.9 359.5) rotate(-73.2) scale(1.1)"/><use href="#ah" transform="translate(371.9 359.8) rotate(-59.6) scale(1.1)"/><use href="#ah" transform="translate(367 360.8) rotate(-57.2) scale(1.1)"/><use href="#ah" transform="translate(387 349) rotate(-47.4) scale(1.1)"/><use href="#ah" transform="translate(385.6 355.6) rotate(-49.3) scale(1.1)"/><use href="#ah" transform="translate(395.7 355.4) rotate(-36.9) scale(1.1)"/><use href="#ah" transform="translate(395.5 357.7) rotate(-37) scale(1.1)"/><use href="#ah" transform="translate(420.3 348.4) rotate(-29.2) scale(1.1)"/><use href="#ah" transform="translate(385.3 364.9) rotate(-41.3) scale(1.1)"/><use href="#ah" transform="translate(375.1 367.3) rotate(-43.6) scale(1.1)"/><use href="#ah" transform="translate(386.3 372.8) rotate(-27.5) scale(1.1)"/><use href="#ah" transform="translate(405.5 370.6) rotate(-22.8) scale(1.1)"/><use href="#ah" transform="translate(423.4 366.3) rotate(-15.7) scale(1.1)"/><use href="#ah" transform="translate(367.4 375.8) rotate(-50.3) scale(1.1)"/><use href="#ah" transform="translate(366 375.3) rotate(-48.1) scale(1.1)"/><use href="#ah" transform="translate(374.9 376.4) rotate(-35.3) scale(1.1)"/><use href="#ah" transform="translate(373.5 376.7) rotate(-32.7) scale(1.1)"/><use href="#ah" transform="translate(337 351.6) rotate(-109.6) scale(1.1)"/><use href="#ah" transform="translate(316.1 342.6) rotate(-132.6) scale(1.1)"/><use href="#ah" transform="translate(313.3 360.3) rotate(-145.4) scale(1.1)"/><use href="#ah" transform="translate(332.9 365.1) rotate(-134.8) scale(1.1)"/><use href="#ah" transform="translate(330.9 362.9) rotate(-135.7) scale(1.1)"/><use href="#ah" transform="translate(335.2 367.5) rotate(-131.8) scale(1.1)"/><use href="#ah" transform="translate(306.5 365.2) rotate(-152.6) scale(1.1)"/><use href="#ah" transform="translate(297.4 373) rotate(-169.5) scale(1.1)"/><use href="#ah" transform="translate(305.9 373.3) rotate(-161.3) scale(1.1)"/><use href="#ah" transform="translate(303.1 388) rotate(-173.9) scale(1.1)"/><use href="#ah" transform="translate(318.2 382) rotate(-170.9) scale(1.1)"/><use href="#ah" transform="translate(321.6 387.1) rotate(178.9) scale(1.1)"/><use href="#ah" transform="translate(330.8 388.3) rotate(-175.3) scale(1.1)"/><use href="#ah" transform="translate(341.1 383.8) rotate(-159) scale(0.8)"/><use href="#ah" transform="translate(340.4 383.9) rotate(-157.7) scale(0.8)"/><use href="#ah" transform="translate(347.8 379.1) rotate(-118.9) scale(0.8)"/><use href="#ah" transform="translate(345.4 375.7) rotate(-111) scale(0.8)"/><use href="#ah" transform="translate(365.3 384.9) rotate(-24.7) scale(0.8)"/><use href="#ah" transform="translate(366.3 383.7) rotate(-18) scale(0.8)"/><use href="#ah" transform="translate(374.9 387.2) rotate(-1.8) scale(1.1)"/><use href="#ah" transform="translate(380.3 398.8) rotate(19.4) scale(1.1)"/><use href="#ah" transform="translate(385.3 392.6) rotate(2.4) scale(1.1)"/><use href="#ah" transform="translate(402.7 387.1) rotate(-0.1) scale(1.1)"/><use href="#ah" transform="translate(392.3 392.6) rotate(6.2) scale(1.1)"/><use href="#ah" transform="translate(292 397.3) rotate(167.5) scale(1.1)"/><use href="#ah" transform="translate(295.8 408.7) rotate(165.4) scale(1.1)"/><use href="#ah" transform="translate(304.7 399.3) rotate(172.5) scale(1.1)"/><use href="#ah" transform="translate(311.7 399.4) rotate(172.7) scale(1.1)"/><use href="#ah" transform="translate(326.1 400.5) rotate(158.5) scale(1.1)"/><use href="#ah" transform="translate(318.5 404.4) rotate(159.4) scale(1.1)"/><use href="#ah" transform="translate(316.4 405) rotate(159.3) scale(1.1)"/><use href="#ah" transform="translate(317 409) rotate(153.7) scale(1.1)"/><use href="#ah" transform="translate(337.9 404.1) rotate(133.2) scale(1.1)"/><use href="#ah" transform="translate(355.9 404.1) rotate(83.2) scale(0.8)"/><use href="#ah" transform="translate(299.1 415) rotate(153.2) scale(1.1)"/><use href="#ah" transform="translate(307.1 425.1) rotate(147.9) scale(1.1)"/><use href="#ah" transform="translate(388.3 412.8) rotate(30) scale(1.1)"/><use href="#ah" transform="translate(395.1 411.1) rotate(24) scale(1.1)"/><use href="#ah" transform="translate(347.4 415.5) rotate(105.6) scale(1.1)"/><use href="#ah" transform="translate(364 421.8) rotate(77.9) scale(1.1)"/><use href="#ah" transform="translate(359.1 425.8) rotate(87.7) scale(1.1)"/><use href="#ah" transform="translate(359.5 423.2) rotate(88.2) scale(1.1)"/><use href="#ah" transform="translate(352 424.5) rotate(97.5) scale(1.1)"/><use href="#ah" transform="translate(353 427.6) rotate(104) scale(1.1)"/><use href="#ah" transform="translate(371.1 427.2) rotate(71.7) scale(1.1)"/><use href="#ah" transform="translate(371.7 425.1) rotate(73.5) scale(1.1)"/><use href="#ah" transform="translate(378.9 416.2) rotate(48.9) scale(1.1)"/><use href="#ah" transform="translate(375.1 417.3) rotate(45.5) scale(1.1)"/><use href="#ah" transform="translate(387.9 432.9) rotate(50.9) scale(1.1)"/><use href="#ah" transform="translate(382.6 421.6) rotate(53.9) scale(1.1)"/><use href="#ah" transform="translate(398.1 436.2) rotate(48.9) scale(1.1)"/><use href="#ah" transform="translate(408.4 424.4) rotate(34.6) scale(1.1)"/><use href="#ah" transform="translate(401.7 413.7) rotate(30.8) scale(1.1)"/><use href="#ah" transform="translate(403.4 428.2) rotate(34.4) scale(1.1)"/><use href="#ah" transform="translate(323.2 425.8) rotate(125.6) scale(1.1)"/><use href="#ah" transform="translate(322.8 421.9) rotate(134.3) scale(1.1)"/><use href="#ah" transform="translate(334.4 428.7) rotate(116.8) scale(1.1)"/><use href="#ah" transform="translate(340.4 435.8) rotate(110.7) scale(1.1)"/><use href="#ah" transform="translate(299.4 437.7) rotate(142.6) scale(1.1)"/><use href="#ah" transform="translate(348.5 441.4) rotate(97.9) scale(1.1)"/><use href="#ah" transform="translate(356.8 432.6) rotate(88.7) scale(1.1)"/><use href="#ah" transform="translate(368.5 451.8) rotate(73) scale(1.1)"/><use href="#ah" transform="translate(374.7 435.3) rotate(69.3) scale(1.1)"/><use href="#ah" transform="translate(359 464.4) rotate(92.3) scale(1.1)"/><use href="#ah" transform="translate(440.1 375) rotate(-14.2) scale(1.1)"/><use href="#ah" transform="translate(403.7 384.8) rotate(-5.5) scale(1.1)"/><use href="#ah" transform="translate(456.5 380.8) rotate(-0.4) scale(1.1)"/><use href="#ah" transform="translate(430.7 419.7) rotate(21.2) scale(1.1)"/><use href="#ah" transform="translate(428.4 421) rotate(27.7) scale(1.1)"/><use href="#ah" transform="translate(480.7 425.9) rotate(15.8) scale(1.1)"/><use href="#ah" transform="translate(414.5 427.4) rotate(27.5) scale(1.1)"/><use href="#ah" transform="translate(405 431.2) rotate(36.3) scale(1.1)"/><use href="#ah" transform="translate(415.8 445.1) rotate(40.3) scale(1.1)"/><use href="#ah" transform="translate(293.4 472.2) rotate(129.1) scale(1.1)"/><use href="#ah" transform="translate(345.2 451.4) rotate(99.4) scale(1.1)"/><use href="#ah" transform="translate(332.9 469.7) rotate(108.1) scale(1.1)"/><use href="#ah" transform="translate(329.8 499.3) rotate(99.2) scale(1.1)"/><use href="#ah" transform="translate(361.4 476.9) rotate(84.9) scale(1.1)"/><use href="#ah" transform="translate(364.5 485.3) rotate(80.8) scale(1.1)"/><use href="#ah" transform="translate(355.4 494.6) rotate(91.3) scale(1.1)"/><use href="#ah" transform="translate(388.8 486) rotate(73.7) scale(1.1)"/><use href="#ah" transform="translate(257.1 313.9) rotate(-145.7) scale(1.1)"/><use href="#ah" transform="translate(272.3 323.5) rotate(-146.7) scale(1.1)"/><use href="#ah" transform="translate(256.2 348.4) rotate(-161.7) scale(1.1)"/><use href="#ah" transform="translate(279.8 354.3) rotate(-158.3) scale(1.1)"/><use href="#ah" transform="translate(274.2 366.6) rotate(-167.7) scale(1.1)"/><use href="#ah" transform="translate(290.1 305.7) rotate(-129.8) scale(1.1)"/><use href="#ah" transform="translate(300 306.4) rotate(-120.6) scale(1.1)"/><use href="#ah" transform="translate(307.2 307.6) rotate(-120) scale(1.1)"/><use href="#ah" transform="translate(281.4 301.5) rotate(-128.2) scale(1.1)"/><use href="#ah" transform="translate(345.3 303.4) rotate(-91.3) scale(1.1)"/><use href="#ah" transform="translate(309.8 294.3) rotate(-109.6) scale(1.1)"/><use href="#ah" transform="translate(303.5 291.1) rotate(-114.6) scale(1.1)"/><use href="#ah" transform="translate(367.3 315.1) rotate(-77.6) scale(1.1)"/><use href="#ah" transform="translate(332.8 310.7) rotate(-107.2) scale(1.1)"/><use href="#ah" transform="translate(337.8 299.6) rotate(-105.7) scale(1.1)"/><use href="#ah" transform="translate(326 320.2) rotate(-111.7) scale(1.1)"/><use href="#ah" transform="translate(338.4 303.9) rotate(-105.8) scale(1.1)"/><use href="#ah" transform="translate(313.3 312) rotate(-123.1) scale(1.1)"/><use href="#ah" transform="translate(316.6 326.6) rotate(-125) scale(1.1)"/><use href="#ah" transform="translate(288.5 306.5) rotate(-126.8) scale(1.1)"/><use href="#ah" transform="translate(289.3 323.2) rotate(-131.4) scale(1.1)"/><use href="#ah" transform="translate(319.8 316.8) rotate(-112.2) scale(1.1)"/><use href="#ah" transform="translate(347.8 310) rotate(-90.9) scale(1.1)"/><use href="#ah" transform="translate(363.8 308) rotate(-79.6) scale(1.1)"/><use href="#ah" transform="translate(386.3 319) rotate(-66.7) scale(1.1)"/><use href="#ah" transform="translate(381.9 335.5) rotate(-66.3) scale(1.1)"/><use href="#ah" transform="translate(416.7 321.1) rotate(-51.6) scale(1.1)"/><use href="#ah" transform="translate(349.2 320.3) rotate(-93.9) scale(1.1)"/><use href="#ah" transform="translate(386.2 349.8) rotate(-52.4) scale(1.1)"/><use href="#ah" transform="translate(397.5 349.2) rotate(-45.8) scale(1.1)"/><use href="#ah" transform="translate(371.1 347.9) rotate(-63.7) scale(1.1)"/><use href="#ah" transform="translate(365.6 336.7) rotate(-79.6) scale(1.1)"/><use href="#ah" transform="translate(380.4 343.3) rotate(-65.5) scale(1.1)"/><use href="#ah" transform="translate(397 357.9) rotate(-38.6) scale(1.1)"/><use href="#ah" transform="translate(329.9 347.6) rotate(-120) scale(1.1)"/><use href="#ah" transform="translate(319.4 342.2) rotate(-122.6) scale(1.1)"/><use href="#ah" transform="translate(318.2 351.1) rotate(-136.4) scale(1.1)"/><use href="#ah" transform="translate(335.3 354) rotate(-116.6) scale(1.1)"/><use href="#ah" transform="translate(310.8 353.8) rotate(-145.8) scale(1.1)"/><use href="#ah" transform="translate(295.3 363.9) rotate(-155.8) scale(1.1)"/><use href="#ah" transform="translate(283.3 363.1) rotate(-158.5) scale(1.1)"/><use href="#ah" transform="translate(308.5 366.7) rotate(-158.3) scale(1.1)"/><use href="#ah" transform="translate(319.6 373.7) rotate(-158) scale(1.1)"/><use href="#ah" transform="translate(312.7 374.6) rotate(-151) scale(1.1)"/><use href="#ah" transform="translate(328.8 371.4) rotate(-141.1) scale(1.1)"/><use href="#ah" transform="translate(328.6 372.3) rotate(-150.3) scale(1.1)"/><use href="#ah" transform="translate(335.9 375.4) rotate(-149.6) scale(1.1)"/><use href="#ah" transform="translate(328.4 378.3) rotate(-162.2) scale(1.1)"/><use href="#ah" transform="translate(329.9 381.8) rotate(-160.9) scale(1.1)"/><use href="#ah" transform="translate(334.6 367.9) rotate(-128.2) scale(1.1)"/><use href="#ah" transform="translate(337.7 366.7) rotate(-137.5) scale(1.1)"/><use href="#ah" transform="translate(342.5 367.4) rotate(-119.9) scale(1.1)"/><use href="#ah" transform="translate(343.7 364.5) rotate(-117.3) scale(1.1)"/><use href="#ah" transform="translate(349.8 367.7) rotate(-105.5) scale(1.1)"/><use href="#ah" transform="translate(353.3 376.1) rotate(-91.1) scale(0.8)"/><use href="#ah" transform="translate(353.1 376.1) rotate(-90.7) scale(0.8)"/><use href="#ah" transform="translate(355 358.2) rotate(-85.2) scale(1.1)"/><use href="#ah" transform="translate(358.6 366.8) rotate(-76.3) scale(1.1)"/><use href="#ah" transform="translate(365.2 365.2) rotate(-61.2) scale(1.1)"/><use href="#ah" transform="translate(360.9 375.2) rotate(-63) scale(0.8)"/><use href="#ah" transform="translate(341.7 378) rotate(-138.7) scale(0.8)"/><use href="#ah" transform="translate(379.7 377.2) rotate(-24.6) scale(1.1)"/><use href="#ah" transform="translate(385 384.4) rotate(-9) scale(1.1)"/><use href="#ah" transform="translate(393.1 390.5) rotate(1.4) scale(1.1)"/><use href="#ah" transform="translate(393.4 390.1) rotate(2.8) scale(1.1)"/><use href="#ah" transform="translate(400 375.8) rotate(-12.4) scale(1.1)"/><use href="#ah" transform="translate(400.2 378.4) rotate(-21.4) scale(1.1)"/><use href="#ah" transform="translate(403.2 378.1) rotate(-9.3) scale(1.1)"/><use href="#ah" transform="translate(395 366.1) rotate(-29.4) scale(1.1)"/><use href="#ah" transform="translate(414.2 402.8) rotate(9.9) scale(1.1)"/><use href="#ah" transform="translate(398.1 403) rotate(16.8) scale(1.1)"/><use href="#ah" transform="translate(394.6 405.8) rotate(24.3) scale(1.1)"/><use href="#ah" transform="translate(374.4 402.5) rotate(32.7) scale(1.1)"/><use href="#ah" transform="translate(381.6 412.8) rotate(45.2) scale(1.1)"/><use href="#ah" transform="translate(372.8 417.5) rotate(59.6) scale(1.1)"/><use href="#ah" transform="translate(371.6 419.5) rotate(53) scale(1.1)"/><use href="#ah" transform="translate(363.7 410.4) rotate(65.6) scale(1.1)"/><use href="#ah" transform="translate(363.4 406.7) rotate(59) scale(0.8)"/><use href="#ah" transform="translate(370.3 409) rotate(51.4) scale(1.1)"/><use href="#ah" transform="translate(373.7 412) rotate(49.2) scale(1.1)"/><use href="#ah" transform="translate(353.3 414.6) rotate(90.1) scale(1.1)"/><use href="#ah" transform="translate(359.8 419.2) rotate(78.9) scale(1.1)"/><use href="#ah" transform="translate(337.7 417) rotate(115.6) scale(1.1)"/><use href="#ah" transform="translate(332.4 413.3) rotate(128) scale(1.1)"/><use href="#ah" transform="translate(327.8 408.7) rotate(146.6) scale(1.1)"/><use href="#ah" transform="translate(332.6 398.8) rotate(151.6) scale(1.1)"/><use href="#ah" transform="translate(326 395.8) rotate(171.3) scale(1.1)"/><use href="#ah" transform="translate(331.2 394.4) rotate(168.8) scale(1.1)"/><use href="#ah" transform="translate(332.8 392.5) rotate(176.4) scale(0.8)"/><use href="#ah" transform="translate(333 393.3) rotate(179.7) scale(0.8)"/><use href="#ah" transform="translate(335.1 397.6) rotate(154.5) scale(0.8)"/><use href="#ah" transform="translate(339.5 389.3) rotate(175.2) scale(0.8)"/><use href="#ah" transform="translate(340.5 389.2) rotate(175.5) scale(0.8)"/><use href="#ah" transform="translate(312.3 395.2) rotate(170) scale(1.1)"/><use href="#ah" transform="translate(312.1 393.3) rotate(164.8) scale(1.1)"/><use href="#ah" transform="translate(305.3 392.9) rotate(171) scale(1.1)"/><use href="#ah" transform="translate(307.4 388.9) rotate(-176.2) scale(1.1)"/><use href="#ah" transform="translate(310.8 404) rotate(162.3) scale(1.1)"/><use href="#ah" transform="translate(300.3 404.5) rotate(164.4) scale(1.1)"/><use href="#ah" transform="translate(277 400.2) rotate(166.4) scale(1.1)"/><use href="#ah" transform="translate(311.9 407.8) rotate(153.3) scale(1.1)"/><use href="#ah" transform="translate(317.7 419.1) rotate(145) scale(1.1)"/><use href="#ah" transform="translate(328.5 413.3) rotate(136.9) scale(1.1)"/><use href="#ah" transform="translate(328.6 416.8) rotate(139.5) scale(1.1)"/><use href="#ah" transform="translate(305.7 429) rotate(142.6) scale(1.1)"/><use href="#ah" transform="translate(356.9 426.5) rotate(83.9) scale(1.1)"/><use href="#ah" transform="translate(358.2 434.2) rotate(83.7) scale(1.1)"/><use href="#ah" transform="translate(381.2 434.1) rotate(59.5) scale(1.1)"/><use href="#ah" transform="translate(397.3 423.6) rotate(44.5) scale(1.1)"/><use href="#ah" transform="translate(393.7 415.7) rotate(35.6) scale(1.1)"/><use href="#ah" transform="translate(409 409.6) rotate(20.2) scale(1.1)"/><use href="#ah" transform="translate(401.6 449) rotate(56.4) scale(1.1)"/><use href="#ah" transform="translate(329.4 430.8) rotate(115.3) scale(1.1)"/><use href="#ah" transform="translate(327.3 423.3) rotate(123.8) scale(1.1)"/><use href="#ah" transform="translate(371.6 416.6) rotate(61.1) scale(1.1)"/><use href="#ah" transform="translate(375 418.3) rotate(64.1) scale(1.1)"/><use href="#ah" transform="translate(412.3 326.6) rotate(-50.3) scale(1.1)"/><use href="#ah" transform="translate(423.8 332.8) rotate(-36.5) scale(1.1)"/><use href="#ah" transform="translate(443.5 332.5) rotate(-27.9) scale(1.1)"/><use href="#ah" transform="translate(394.6 348.8) rotate(-44.3) scale(1.1)"/><use href="#ah" transform="translate(428.5 361.3) rotate(-25) scale(1.1)"/><use href="#ah" transform="translate(448.5 354.6) rotate(-24) scale(1.1)"/><use href="#ah" transform="translate(435.6 363.7) rotate(-15.1) scale(1.1)"/><use href="#ah" transform="translate(458.3 360.3) rotate(-11.9) scale(1.1)"/><use href="#ah" transform="translate(433.3 369.4) rotate(-18.7) scale(1.1)"/><use href="#ah" transform="translate(406.4 379.7) rotate(-11.2) scale(1.1)"/><use href="#ah" transform="translate(437.4 390.4) rotate(-1.6) scale(1.1)"/><use href="#ah" transform="translate(445.1 396.1) rotate(9.5) scale(1.1)"/><use href="#ah" transform="translate(399 396.4) rotate(13.1) scale(1.1)"/><use href="#ah" transform="translate(458.7 416.1) rotate(12) scale(1.1)"/><use href="#ah" transform="translate(448.3 418.7) rotate(18.2) scale(1.1)"/><use href="#ah" transform="translate(502.9 421.9) rotate(17.2) scale(1.1)"/><use href="#ah" transform="translate(429.3 434.2) rotate(26.5) scale(1.1)"/><use href="#ah" transform="translate(432.8 445.1) rotate(33.9) scale(1.1)"/><use href="#ah" transform="translate(398.9 444.5) rotate(48.1) scale(1.1)"/><use href="#ah" transform="translate(439.6 322.6) rotate(-34.2) scale(1.1)"/><use href="#ah" transform="translate(258.8 451.3) rotate(142.7) scale(1.1)"/><use href="#ah" transform="translate(291.2 463.5) rotate(135.3) scale(1.1)"/><use href="#ah" transform="translate(312 449.8) rotate(121.5) scale(1.1)"/><use href="#ah" transform="translate(321.8 450.9) rotate(118.2) scale(1.1)"/><use href="#ah" transform="translate(331 466) rotate(108.5) scale(1.1)"/><use href="#ah" transform="translate(267.6 508.6) rotate(125.3) scale(1.1)"/><use href="#ah" transform="translate(312.9 482) rotate(109.4) scale(1.1)"/><use href="#ah" transform="translate(305.3 491.6) rotate(118.1) scale(1.1)"/><use href="#ah" transform="translate(348.6 504.2) rotate(96.8) scale(1.1)"/><use href="#ah" transform="translate(272.5 497.9) rotate(126.6) scale(1.1)"/><use href="#ah" transform="translate(386.2 441) rotate(61.3) scale(1.1)"/><use href="#ah" transform="translate(396.4 441.9) rotate(55.1) scale(1.1)"/><use href="#ah" transform="translate(401.9 440) rotate(50) scale(1.1)"/><use href="#ah" transform="translate(438.8 443.1) rotate(37.5) scale(1.1)"/><use href="#ah" transform="translate(351.6 470) rotate(95.4) scale(1.1)"/><use href="#ah" transform="translate(360 453.8) rotate(86.7) scale(1.1)"/><use href="#ah" transform="translate(350.2 477.3) rotate(94.5) scale(1.1)"/><use href="#ah" transform="translate(358.1 487.8) rotate(84.7) scale(1.1)"/><use href="#ah" transform="translate(408.3 496.7) rotate(65.5) scale(1.1)"/><use href="#ah" transform="translate(274.1 357.9) rotate(-158.6) scale(1.1)"/><use href="#ah" transform="translate(290.6 368.1) rotate(-158.1) scale(1.1)"/><use href="#ah" transform="translate(277.8 370.9) rotate(-164.8) scale(1.1)"/><use href="#ah" transform="translate(299.6 350.9) rotate(-138.7) scale(1.1)"/><use href="#ah" transform="translate(301.3 367.4) rotate(-154.6) scale(1.1)"/><use href="#ah" transform="translate(290.3 404.9) rotate(170.9) scale(1.1)"/><use href="#ah" transform="translate(276.2 411.9) rotate(161.4) scale(1.1)"/><use href="#ah" transform="translate(261.5 432.5) rotate(154.4) scale(1.1)"/><use href="#ah" transform="translate(305.7 447.2) rotate(132.7) scale(1.1)"/><use href="#ah" transform="translate(312 423.2) rotate(141.4) scale(1.1)"/><use href="#ah" transform="translate(299.8 413.8) rotate(150.6) scale(1.1)"/><use href="#ah" transform="translate(299.3 409) rotate(165.3) scale(1.1)"/><use href="#ah" transform="translate(296.8 395.3) rotate(170.2) scale(1.1)"/><use href="#ah" transform="translate(322.8 394.7) rotate(170.8) scale(1.1)"/><use href="#ah" transform="translate(318 350.6) rotate(-136.7) scale(1.1)"/><use href="#ah" transform="translate(321 343.6) rotate(-124.7) scale(1.1)"/><use href="#ah" transform="translate(332.4 351.1) rotate(-119.8) scale(1.1)"/><use href="#ah" transform="translate(308.9 356.4) rotate(-146) scale(1.1)"/><use href="#ah" transform="translate(243.7 310.3) rotate(-125.7) scale(0.8)"/><use href="#ah" transform="translate(229.7 293.8) rotate(-127.3) scale(0.8)"/><use href="#ah" transform="translate(215.9 273.4) rotate(-126) scale(0.8)"/><use href="#ah" transform="translate(190.2 254) rotate(-156.4) scale(1.1)"/><use href="#ah" transform="translate(166 244.6) rotate(-160.1) scale(0.8)"/><use href="#ah" transform="translate(145.2 249.8) rotate(138.3) scale(0.8)"/><use href="#ah" transform="translate(210.8 277) rotate(25.6) scale(0.8)"/><use href="#ah" transform="translate(130.3 249.4) rotate(-128.3) scale(0.8)"/><use href="#ah" transform="translate(121.6 237.4) rotate(-123.9) scale(0.8)"/><use href="#ah" transform="translate(115 238.6) rotate(107.7) scale(0.8)"/><use href="#ah" transform="translate(104.9 257.8) rotate(119.6) scale(0.8)"/><use href="#ah" transform="translate(95.3 279.9) rotate(111.8) scale(0.8)"/><use href="#ah" transform="translate(87.1 304.7) rotate(102.5) scale(0.8)"/><use href="#ah" transform="translate(82 326.7) rotate(102.7) scale(0.8)"/><use href="#ah" transform="translate(133.5 270.1) rotate(101.7) scale(0.8)"/><use href="#ah" transform="translate(122.7 290.3) rotate(141.3) scale(0.8)"/><use href="#ah" transform="translate(107.2 308.4) rotate(121.3) scale(0.8)"/><use href="#ah" transform="translate(145.3 302) rotate(52.8) scale(0.8)"/><use href="#ah" transform="translate(165.6 320.5) rotate(41.6) scale(1.1)"/><use href="#ah" transform="translate(204.8 337.4) rotate(1.5) scale(1.1)"/><use href="#ah" transform="translate(256.4 342.1) rotate(0.4) scale(1.1)"/><use href="#ah" transform="translate(182.2 346.7) rotate(119.4) scale(0.8)"/><use href="#ah" transform="translate(190.2 378.1) rotate(19.4) scale(1.1)"/><use href="#ah" transform="translate(405.4 333.3) rotate(-53.1) scale(1.1)"/><use href="#ah" transform="translate(440.4 271.1) rotate(-80.6) scale(0.8)"/><use href="#ah" transform="translate(453.2 241) rotate(-59.5) scale(1.1)"/><use href="#ah" transform="translate(460.8 219) rotate(-87.9) scale(0.8)"/><use href="#ah" transform="translate(442.3 234.7) rotate(-66) scale(1.1)"/><use href="#ah" transform="translate(479.1 146.7) rotate(-108.1) scale(1.1)"/><use href="#ah" transform="translate(485.8 150.5) rotate(-93.5) scale(1.1)"/><use href="#ah" transform="translate(461 160.2) rotate(-155.1) scale(1.1)"/><use href="#ah" transform="translate(473.7 160) rotate(-141.7) scale(1.1)"/><use href="#ah" transform="translate(494.4 166.5) rotate(-22.9) scale(0.8)"/><use href="#ah" transform="translate(429.1 132.5) rotate(8.8) scale(0.8)"/><use href="#ah" transform="translate(447.7 131.3) rotate(-17) scale(0.8)"/><use href="#ah" transform="translate(460 138) rotate(-89.4) scale(0.8)"/><use href="#ah" transform="translate(480.7 158.4) rotate(60.3) scale(0.8)"/><use href="#ah" transform="translate(486.8 139.5) rotate(-107.4) scale(0.8)"/><use href="#ah" transform="translate(469.7 164.5) rotate(20.3) scale(1.1)"/><use href="#ah" transform="translate(499.7 179.2) rotate(34.1) scale(1.1)"/><use href="#ah" transform="translate(521.6 201.6) rotate(53.5) scale(1.1)"/><use href="#ah" transform="translate(496.6 188.8) rotate(60.7) scale(1.1)"/><use href="#ah" transform="translate(515.3 227) rotate(67.7) scale(1.1)"/><use href="#ah" transform="translate(538.1 205.5) rotate(-58.2) scale(0.8)"/><use href="#ah" transform="translate(544.7 217.1) rotate(14.7) scale(0.8)"/><use href="#ah" transform="translate(529.4 235.3) rotate(98.8) scale(1.1)"/><use href="#ah" transform="translate(564.3 224.7) rotate(23.1) scale(0.8)"/><use href="#ah" transform="translate(578.6 235.9) rotate(82.8) scale(0.8)"/><use href="#ah" transform="translate(567.8 249.5) rotate(163.2) scale(0.8)"/><use href="#ah" transform="translate(541.4 251.4) rotate(-176.3) scale(1.1)"/><use href="#ah" transform="translate(557.6 235.3) rotate(140.6) scale(0.8)"/><use href="#ah" transform="translate(537.2 246.1) rotate(159.7) scale(0.8)"/><use href="#ah" transform="translate(532.7 242.8) rotate(128.6) scale(0.8)"/><use href="#ah" transform="translate(548.7 226.8) rotate(-40.5) scale(0.8)"/><use href="#ah" transform="translate(536.3 268.4) rotate(57.9) scale(1.1)"/><use href="#ah" transform="translate(560.1 317.1) rotate(79) scale(1.1)"/><use href="#ah" transform="translate(507.9 267.1) rotate(138.6) scale(1.1)"/><use href="#ah" transform="translate(407.8 347.4) rotate(142.4) scale(1.1)"/><use href="#ah" transform="translate(518.1 262.3) rotate(123.1) scale(1.1)"/><use href="#ah" transform="translate(506.8 286.3) rotate(103.5) scale(0.8)"/><use href="#ah" transform="translate(420.3 341.2) rotate(147.6) scale(1.1)"/><use href="#ah" transform="translate(556.6 370.1) rotate(111.6) scale(1.1)"/><use href="#ah" transform="translate(538.3 409.9) rotate(113.7) scale(1.1)"/><use href="#ah" transform="translate(556.6 343) rotate(-159.1) scale(0.8)"/><use href="#ah" transform="translate(525.2 339.6) rotate(173) scale(1.1)"/><use href="#ah" transform="translate(524.2 366.1) rotate(167.4) scale(1.1)"/><use href="#ah" transform="translate(427.3 386.6) rotate(172.9) scale(1.1)"/><use href="#ah" transform="translate(512.6 397) rotate(91.4) scale(1.1)"/><use href="#ah" transform="translate(500.6 416.9) rotate(152.8) scale(0.8)"/><use href="#ah" transform="translate(419.8 410.8) rotate(-166.1) scale(1.1)"/><use href="#ah" transform="translate(517.2 463) rotate(9) scale(1.1)"/><use href="#ah" transform="translate(558.8 484.6) rotate(21.7) scale(1.1)"/><use href="#ah" transform="translate(580.5 496.5) rotate(38.2) scale(0.8)"/><use href="#ah" transform="translate(591.2 513.5) rotate(82.5) scale(0.8)"/><use href="#ah" transform="translate(589.3 531.9) rotate(112.8) scale(0.8)"/><use href="#ah" transform="translate(578.9 547.9) rotate(125.9) scale(0.8)"/><use href="#ah" transform="translate(564.9 565.9) rotate(131.4) scale(0.8)"/><use href="#ah" transform="translate(550.6 580.4) rotate(139.5) scale(0.8)"/><use href="#ah" transform="translate(531.5 594) rotate(147.7) scale(0.8)"/><use href="#ah" transform="translate(511.5 602.7) rotate(161.1) scale(0.8)"/><use href="#ah" transform="translate(491.3 600.3) rotate(-141.6) scale(0.8)"/><use href="#ah" transform="translate(469.2 574.3) rotate(-129.1) scale(1.1)"/><use href="#ah" transform="translate(444.1 540.3) rotate(-120.6) scale(1.1)"/><use href="#ah" transform="translate(417.6 518.8) rotate(179) scale(1.1)"/><use href="#ah" transform="translate(502.1 614.8) rotate(78.5) scale(0.8)"/><use href="#ah" transform="translate(465.2 473.3) rotate(-24.2) scale(0.8)"/><use href="#ah" transform="translate(481.1 482.1) rotate(48.9) scale(0.8)"/><use href="#ah" transform="translate(511.4 502.2) rotate(50.1) scale(0.8)"/><use href="#ah" transform="translate(450.7 492.4) rotate(112.5) scale(1.1)"/><use href="#ah" transform="translate(443 477.6) rotate(179.5) scale(0.8)"/><use href="#ah" transform="translate(386 561.1) rotate(96.9) scale(1.1)"/><use href="#ah" transform="translate(375 598.8) rotate(112.6) scale(1.1)"/><use href="#ah" transform="translate(358.5 625.8) rotate(136.6) scale(1.1)"/><use href="#ah" transform="translate(332.3 637.9) rotate(-177.5) scale(0.8)"/><use href="#ah" transform="translate(396.6 559.4) rotate(76.9) scale(1.1)"/><use href="#ah" transform="translate(403 600.5) rotate(80.6) scale(1.1)"/><use href="#ah" transform="translate(406.7 632.1) rotate(94.5) scale(0.8)"/><use href="#ah" transform="translate(398.3 650.2) rotate(138) scale(0.8)"/><use href="#ah" transform="translate(379.9 657) rotate(-174.7) scale(0.8)"/><use href="#ah" transform="translate(360.6 645.7) rotate(-130.9) scale(0.8)"/><use href="#ah" transform="translate(323.5 552.2) rotate(92.3) scale(1.1)"/><use href="#ah" transform="translate(329.8 594.1) rotate(71.1) scale(1.1)"/><use href="#ah" transform="translate(345.7 625.8) rotate(55.1) scale(1.1)"/><use href="#ah" transform="translate(340.4 648.9) rotate(-78.2) scale(0.8)"/><use href="#ah" transform="translate(307.3 624) rotate(-130.3) scale(0.8)"/><use href="#ah" transform="translate(294.4 598.2) rotate(-105.6) scale(1.1)"/><use href="#ah" transform="translate(417 530.3) rotate(34.2) scale(1.1)"/><use href="#ah" transform="translate(446.1 549.5) rotate(35.6) scale(0.8)"/><use href="#ah" transform="translate(409.5 533.1) rotate(56.3) scale(1.1)"/><use href="#ah" transform="translate(403.5 538.7) rotate(67.6) scale(1.1)"/><use href="#ah" transform="translate(333.1 550.1) rotate(56.9) scale(1.1)"/><use href="#ah" transform="translate(345.2 550.4) rotate(-62.9) scale(0.8)"/><use href="#ah" transform="translate(250.1 467.5) rotate(161.5) scale(1.1)"/><use href="#ah" transform="translate(222.1 478.7) rotate(147.4) scale(0.8)"/><use href="#ah" transform="translate(198.3 496.5) rotate(137.1) scale(0.8)"/><use href="#ah" transform="translate(179.5 522.1) rotate(123.1) scale(1.1)"/><use href="#ah" transform="translate(172.6 552.9) rotate(83.5) scale(1.1)"/><use href="#ah" transform="translate(185.9 577.7) rotate(41.8) scale(1.1)"/><use href="#ah" transform="translate(214.5 594.4) rotate(10.4) scale(1.1)"/><use href="#ah" transform="translate(253.1 586.4) rotate(-23.6) scale(1.1)"/><use href="#ah" transform="translate(226.5 502.8) rotate(44.1) scale(1.1)"/><use href="#ah" transform="translate(265.1 519.6) rotate(17.6) scale(1.1)"/><use href="#ah" transform="translate(243.4 602.8) rotate(35.8) scale(0.8)"/><use href="#ah" transform="translate(264.4 588.5) rotate(-51.1) scale(0.8)"/><use href="#ah" transform="translate(235.2 533.4) rotate(167.9) scale(1.1)"/><use href="#ah" transform="translate(257.6 531.2) rotate(169.7) scale(1.1)"/><use href="#ah" transform="translate(264.7 532.7) rotate(168.5) scale(1.1)"/><use href="#ah" transform="translate(256.2 536.7) rotate(158.2) scale(1.1)"/><use href="#ah" transform="translate(238.6 543.8) rotate(160.9) scale(1.1)"/><use href="#ah" transform="translate(205.9 563.4) rotate(-36.5) scale(0.8)"/><use href="#ah" transform="translate(254.7 545.8) rotate(155.6) scale(1.1)"/><use href="#ah" transform="translate(271.8 538.7) rotate(140.3) scale(1.1)"/><use href="#ah" transform="translate(276.6 544.5) rotate(117.7) scale(1.1)"/><use href="#ah" transform="translate(285.2 545.6) rotate(92.6) scale(1.1)"/><use href="#ah" transform="translate(272.9 537.4) rotate(145.6) scale(0.8)"/><use href="#ah" transform="translate(293.5 540.6) rotate(59.8) scale(1.1)"/><use href="#ah" transform="translate(280 551.4) rotate(104.4) scale(1.1)"/><use href="#ah" transform="translate(285.7 555.9) rotate(84.9) scale(1.1)"/><use href="#ah" transform="translate(302.6 562.5) rotate(84.8) scale(0.8)"/><use href="#ah" transform="translate(294.1 389.3) rotate(177.1) scale(1.1)"/><use href="#ah" transform="translate(206.4 400.2) rotate(164.6) scale(1.1)"/><use href="#ah" transform="translate(278.2 415.1) rotate(165.6) scale(1.1)"/><use href="#ah" transform="translate(186.8 433.2) rotate(160.6) scale(1.1)"/><use href="#ah" transform="translate(189.4 430.4) rotate(-5.3) scale(1.1)"/><use href="#ah" transform="translate(283.2 406.4) rotate(161) scale(1.1)"/><use href="#ah" transform="translate(228.8 440.2) rotate(111.8) scale(0.8)"/><use href="#ah" transform="translate(227.1 459.8) rotate(73.8) scale(0.8)"/><use href="#ah" transform="translate(199.1 367.9) rotate(-162.9) scale(1.1)"/><use href="#ah" transform="translate(193.7 371.5) rotate(177) scale(1.1)"/><use href="#ah" transform="translate(367.2 340.8) rotate(-75.8) scale(1.1)"/><use href="#ah" transform="translate(375.8 259.7) rotate(-91.5) scale(1.1)"/><use href="#ah" transform="translate(374.5 217.2) rotate(-93) scale(1.1)"/><use href="#ah" transform="translate(374.3 184) rotate(-84.2) scale(0.8)"/><use href="#ah" transform="translate(381.8 182.2) rotate(65.3) scale(0.8)"/><use href="#ah" transform="translate(387.4 216.9) rotate(91.6) scale(1.1)"/><use href="#ah" transform="translate(380.2 261.7) rotate(98.1) scale(1.1)"/><use href="#ah" transform="translate(334.4 320.8) rotate(-103.7) scale(1.1)"/><use href="#ah" transform="translate(320.1 226.9) rotate(-95.3) scale(1.1)"/><use href="#ah" transform="translate(347.2 324.3) rotate(-93.4) scale(1.1)"/><use href="#ah" transform="translate(340.4 231.7) rotate(-107.5) scale(1.1)"/><use href="#ah" transform="translate(314.2 315.9) rotate(-118.7) scale(1.1)"/><use href="#ah" transform="translate(256.5 230.7) rotate(118.8) scale(0.8)"/><use href="#ah" transform="translate(274.3 236) rotate(52.9) scale(1.1)"/><use href="#ah" transform="translate(546.6 447.6) rotate(-1.7) scale(1.1)"/><use href="#ah" transform="translate(546.7 435.8) rotate(-173.8) scale(1.1)"/><use href="#ah" transform="translate(85.5 307.2) rotate(-77.2) scale(0.8)"/><use href="#ah" transform="translate(219.4 352.6) rotate(-71.7) scale(1.1)"/><use href="#ah" transform="translate(257.2 231.4) rotate(121.4) scale(0.8)"/><use href="#ah" transform="translate(436.2 265.3) rotate(80.4) scale(0.8)"/><use href="#ah" transform="translate(323.2 277) rotate(-69.7) scale(0.8)"/><use href="#ah" transform="translate(436.7 265.5) rotate(-99.9) scale(0.8)"/><use href="#ah" transform="translate(450.1 141.9) rotate(-145.3) scale(0.8)"/><use href="#ah" transform="translate(570.4 238) rotate(-132.2) scale(0.8)"/><use href="#ah" transform="translate(362 323.5) rotate(60.8) scale(1.1)"/><use href="#ah" transform="translate(335.4 326.3) rotate(171.2) scale(0.8)"/><use href="#ah" transform="translate(404.4 344.3) rotate(-0) scale(0.8)"/><use href="#ah" transform="translate(436.7 369.2) rotate(135.3) scale(0.8)"/><use href="#ah" transform="translate(392.1 380.2) rotate(37.7) scale(0.8)"/><use href="#ah" transform="translate(322.3 341.5) rotate(132.4) scale(0.8)"/><use href="#ah" transform="translate(318.8 359.7) rotate(72) scale(0.8)"/><use href="#ah" transform="translate(281.7 387.6) rotate(98.6) scale(0.8)"/><use href="#ah" transform="translate(333 366.7) rotate(-89.1) scale(1.1)"/><use href="#ah" transform="translate(332.2 371.8) rotate(175.5) scale(0.8)"/><use href="#ah" transform="translate(372.2 370.1) rotate(-87.7) scale(0.8)"/><use href="#ah" transform="translate(375.5 394) rotate(151.7) scale(0.8)"/><use href="#ah" transform="translate(405.1 374.7) rotate(-72.1) scale(1.1)"/><use href="#ah" transform="translate(276.8 414.3) rotate(-10.7) scale(0.8)"/><use href="#ah" transform="translate(289.3 423.8) rotate(153.6) scale(1.1)"/><use href="#ah" transform="translate(341.6 418.6) rotate(162.6) scale(1.1)"/><use href="#ah" transform="translate(265.7 447.5) rotate(98.5) scale(1.1)"/><use href="#ah" transform="translate(388.3 419.7) rotate(-169.4) scale(0.8)"/><use href="#ah" transform="translate(327.4 433.2) rotate(-178.5) scale(1.1)"/><use href="#ah" transform="translate(361.2 426) rotate(-117) scale(0.8)"/><use href="#ah" transform="translate(404.6 428) rotate(-27.6) scale(0.8)"/><use href="#ah" transform="translate(396.3 442.6) rotate(-158.5) scale(0.8)"/><use href="#ah" transform="translate(296.4 446.7) rotate(-142.4) scale(0.8)"/><use href="#ah" transform="translate(312.4 453) rotate(-146.8) scale(1.1)"/><use href="#ah" transform="translate(368.5 483.1) rotate(113) scale(1.1)"/><use href="#ah" transform="translate(499.5 357.9) rotate(-20.2) scale(1.1)"/><use href="#ah" transform="translate(557.3 348.4) rotate(123.5) scale(0.8)"/><use href="#ah" transform="translate(556.1 341.6) rotate(-158.3) scale(0.8)"/><use href="#ah" transform="translate(460.2 444.6) rotate(131.9) scale(1.1)"/><use href="#ah" transform="translate(348.8 517) rotate(39.6) scale(1.1)"/><use href="#ah" transform="translate(338.4 533.2) rotate(5) scale(0.8)"/><use href="#ah" transform="translate(298 542.3) rotate(-97) scale(0.8)"/><use href="#ah" transform="translate(358.3 524.2) rotate(-69.2) scale(0.8)"/><use href="#ah" transform="translate(411.7 532.6) rotate(58.1) scale(1.1)"/><use href="#ah" transform="translate(406 543) rotate(23.7) scale(1.1)"/><use href="#ah" transform="translate(426.6 547.3) rotate(-14.3) scale(0.8)"/><use href="#ah" transform="translate(500.4 474.6) rotate(-102.1) scale(1.1)"/><use href="#ah" transform="translate(469.3 576.6) rotate(-128.6) scale(1.1)"/><use href="#ah" transform="translate(163.4 244.9) rotate(-158.9) scale(0.8)"/><use href="#ah" transform="translate(87.7 305.2) rotate(102.4) scale(0.8)"/><use href="#ah" transform="translate(179.5 348.8) rotate(-78.2) scale(0.8)"/><use href="#ah" transform="translate(234.7 350.2) rotate(-118.1) scale(0.8)"/><use href="#ah" transform="translate(260.6 244.7) rotate(28.4) scale(0.8)"/><use href="#ah" transform="translate(247 247.4) rotate(-69.4) scale(0.8)"/><use href="#ah" transform="translate(426.4 139.2) rotate(50.2) scale(0.8)"/><use href="#ah" transform="translate(272.7 265.2) rotate(68.6) scale(1.1)"/><use href="#ah" transform="translate(246.7 246.9) rotate(-71.6) scale(0.8)"/><use href="#ah" transform="translate(327.5 264.4) rotate(-107.4) scale(1.1)"/><use href="#ah" transform="translate(274.8 260.8) rotate(-113) scale(1.1)"/><use href="#ah" transform="translate(314.1 305.4) rotate(78.3) scale(1.1)"/><use href="#ah" transform="translate(389.6 305.5) rotate(112.8) scale(1.1)"/><use href="#ah" transform="translate(466 137.1) rotate(56.1) scale(0.8)"/><use href="#ah" transform="translate(529 204) rotate(-20.4) scale(1.1)"/><use href="#ah" transform="translate(539.2 231.1) rotate(-124.4) scale(1.1)"/><use href="#ah" transform="translate(450.7 240.1) rotate(123) scale(1.1)"/><use href="#ah" transform="translate(495.7 286.2) rotate(155.8) scale(1.1)"/><use href="#ah" transform="translate(423.2 309.9) rotate(-40) scale(1.1)"/><use href="#ah" transform="translate(416.9 349.2) rotate(121.2) scale(1.1)"/><use href="#ah" transform="translate(307.5 341.7) rotate(40.4) scale(0.8)"/><use href="#ah" transform="translate(239.6 347.4) rotate(-154.6) scale(1.1)"/><use href="#ah" transform="translate(271.7 353.7) rotate(-169.1) scale(0.8)"/><use href="#ah" transform="translate(290.1 350.8) rotate(-110.7) scale(0.8)"/><use href="#ah" transform="translate(330.8 363.7) rotate(20.3) scale(0.8)"/><use href="#ah" transform="translate(314.1 387.9) rotate(140.1) scale(1.1)"/><use href="#ah" transform="translate(363.8 368.1) rotate(72) scale(0.8)"/><use href="#ah" transform="translate(324.3 385.5) rotate(107) scale(1.1)"/><use href="#ah" transform="translate(432.5 424.3) rotate(88.1) scale(0.8)"/><use href="#ah" transform="translate(419.7 412.4) rotate(2.4) scale(0.8)"/><use href="#ah" transform="translate(371.2 420.8) rotate(-161.3) scale(1.1)"/><use href="#ah" transform="translate(394.4 415.9) rotate(-9) scale(1.1)"/><use href="#ah" transform="translate(326.1 399.9) rotate(-56.5) scale(0.8)"/><use href="#ah" transform="translate(315.8 395.4) rotate(166.9) scale(1.1)"/><use href="#ah" transform="translate(296.2 422.5) rotate(31.3) scale(0.8)"/><use href="#ah" transform="translate(311.7 419.1) rotate(-43.2) scale(0.8)"/><use href="#ah" transform="translate(300.2 432.5) rotate(165) scale(0.8)"/><use href="#ah" transform="translate(410.2 467.5) rotate(-141.4) scale(0.8)"/><use href="#ah" transform="translate(528.4 356.2) rotate(19.6) scale(1.1)"/><use href="#ah" transform="translate(550.6 336.6) rotate(-6.2) scale(0.8)"/><use href="#ah" transform="translate(415.6 396.3) rotate(-152.6) scale(1.1)"/><use href="#ah" transform="translate(487.5 458.1) rotate(11.2) scale(0.8)"/><use href="#ah" transform="translate(467.7 455.2) rotate(-95.3) scale(1.1)"/><use href="#ah" transform="translate(441.4 468.2) rotate(-45.4) scale(0.8)"/><use href="#ah" transform="translate(200.7 495.1) rotate(139) scale(0.8)"/><use href="#ah" transform="translate(180.4 523.4) rotate(-55.9) scale(1.1)"/><use href="#ah" transform="translate(198.5 579.9) rotate(-96.8) scale(0.8)"/><use href="#ah" transform="translate(295.6 510.5) rotate(91.4) scale(1.1)"/><use href="#ah" transform="translate(281.4 542.4) rotate(-83.7) scale(1.1)"/><use href="#ah" transform="translate(311.8 560.4) rotate(-144.6) scale(0.8)"/><use href="#ah" transform="translate(251.1 605.4) rotate(126.2) scale(0.8)"/><use href="#ah" transform="translate(238.7 612.9) rotate(-104.7) scale(1.1)"/><use href="#ah" transform="translate(399 449.5) rotate(-71.8) scale(0.8)"/><use href="#ah" transform="translate(505.3 503.4) rotate(31.2) scale(1.1)"/><use href="#ah" transform="translate(330.9 526) rotate(-164.3) scale(1.1)"/><use href="#ah" transform="translate(444.4 552) rotate(35.5) scale(0.8)"/><use href="#ah" transform="translate(393.2 582.4) rotate(18.4) scale(0.8)"/><use href="#ah" transform="translate(382.2 654.2) rotate(6.5) scale(0.8)"/><use href="#ah" transform="translate(503.9 614.6) rotate(-101.4) scale(0.8)"/><use href="#ah" transform="translate(566.9 564.5) rotate(131.6) scale(0.8)"/><use href="#ah" transform="translate(550.2 580.4) rotate(-40.8) scale(0.8)"/><use href="#ah" transform="translate(238.1 368.8) rotate(90.1) scale(0.8)"/><use href="#ah" transform="translate(300.6 341.1) rotate(16.2) scale(0.8)"/><use href="#ah" transform="translate(239.2 395.4) rotate(-102.8) scale(0.8)"/><use href="#ah" transform="translate(229.2 411.3) rotate(-108.6) scale(1.1)"/><use href="#ah" transform="translate(273.8 494.5) rotate(16.5) scale(0.8)"/><use href="#ah" transform="translate(295.2 439.5) rotate(-40.8) scale(1.1)"/><use href="#ah" transform="translate(274.6 410.2) rotate(-157.9) scale(0.8)"/><use href="#ah" transform="translate(302.1 342) rotate(117.8) scale(1.1)"/><use href="#ah" transform="translate(329.8 328.6) rotate(23.4) scale(0.8)"/></g><g fill="#000"><circle cx="117.1" cy="229.4" r="3.05"/><circle cx="126.3" cy="243.5" r="3.05"/><circle cx="154.8" cy="240.9" r="3.05"/><circle cx="175.7" cy="248.4" r="3.05"/><circle cx="206" cy="261.8" r="3.05"/><circle cx="216.3" cy="287.5" r="3.05"/><circle cx="98.8" cy="270" r="3.05"/><circle cx="88.9" cy="293.5" r="3.05"/><circle cx="103.4" cy="315.1" r="3.05"/><circle cx="236" cy="301.6" r="3.05"/><circle cx="181.3" cy="336.6" r="3.05"/><circle cx="188.3" cy="337.7" r="3.05"/><circle cx="225.7" cy="339.1" r="3.05"/><circle cx="248.3" cy="342.6" r="3.05"/><circle cx="176.4" cy="360.3" r="3.05"/><circle cx="176.4" cy="373.9" r="3.05"/><circle cx="238.4" cy="359.8" r="3.05"/><circle cx="251.5" cy="237.8" r="3.05"/><circle cx="245" cy="254.5" r="3.05"/><circle cx="421.9" cy="131.7" r="3.05"/><circle cx="438.9" cy="134.6" r="3.05"/><circle cx="376.1" cy="172.2" r="3.05"/><circle cx="334.8" cy="210" r="3.05"/><circle cx="252" cy="237.9" r="3.05"/><circle cx="375.7" cy="235.4" r="3.05"/><circle cx="385.6" cy="235.1" r="3.05"/><circle cx="267.5" cy="247.4" r="3.05"/><circle cx="273.1" cy="248.8" r="3.05"/><circle cx="284" cy="249.5" r="3.05"/><circle cx="245.4" cy="254.4" r="3.05"/><circle cx="346.8" cy="249.2" r="3.05"/><circle cx="297.8" cy="256.3" r="3.05"/><circle cx="290.5" cy="261.5" r="3.05"/><circle cx="378.9" cy="268.5" r="3.05"/><circle cx="319" cy="269" r="3.05"/><circle cx="327.4" cy="267.1" r="3.05"/><circle cx="307" cy="271.8" r="3.05"/><circle cx="330.3" cy="278" r="3.05"/><circle cx="288.2" cy="277" r="3.05"/><circle cx="280.2" cy="280.5" r="3.05"/><circle cx="269.2" cy="280.2" r="3.05"/><circle cx="261.2" cy="289.7" r="3.05"/><circle cx="308.4" cy="286.9" r="3.05"/><circle cx="347.9" cy="285.9" r="3.05"/><circle cx="368.6" cy="284.5" r="3.05"/><circle cx="403.6" cy="277.4" r="3.05"/><circle cx="399.4" cy="289.7" r="3.05"/><circle cx="434.6" cy="297.5" r="3.05"/><circle cx="460.9" cy="128.6" r="3.05"/><circle cx="473.6" cy="147" r="3.05"/><circle cx="490.5" cy="149.4" r="3.05"/><circle cx="457.8" cy="159.9" r="3.05"/><circle cx="512.4" cy="187.7" r="3.05"/><circle cx="508.4" cy="208.3" r="3.05"/><circle cx="541.6" cy="232.3" r="3.05"/><circle cx="564.1" cy="230.5" r="3.05"/><circle cx="577.3" cy="228.6" r="3.05"/><circle cx="550" cy="242.5" r="3.05"/><circle cx="557.9" cy="253" r="3.05"/><circle cx="461.2" cy="228.1" r="3.05"/><circle cx="442.6" cy="260.5" r="3.05"/><circle cx="509.1" cy="278.8" r="3.05"/><circle cx="552.6" cy="290.7" r="3.05"/><circle cx="347.9" cy="300.5" r="3.05"/><circle cx="408.5" cy="319.8" r="3.05"/><circle cx="422.6" cy="321.6" r="3.05"/><circle cx="385.3" cy="322.3" r="3.05"/><circle cx="369" cy="317" r="3.05"/><circle cx="386" cy="330.1" r="3.05"/><circle cx="424.1" cy="335" r="3.05"/><circle cx="316.2" cy="323.7" r="3.05"/><circle cx="309.8" cy="326.5" r="3.05"/><circle cx="298.5" cy="333.3" r="3.05"/><circle cx="323.9" cy="330.1" r="3.05"/><circle cx="287.2" cy="339.2" r="3.05"/><circle cx="248.5" cy="342.1" r="3.05"/><circle cx="259.7" cy="353.6" r="3.05"/><circle cx="281.6" cy="357.3" r="3.05"/><circle cx="299.2" cy="366" r="3.05"/><circle cx="316.9" cy="361.1" r="3.05"/><circle cx="321.8" cy="368.6" r="3.05"/><circle cx="315.5" cy="374.8" r="3.05"/><circle cx="323.2" cy="379.4" r="3.05"/><circle cx="328.2" cy="359.3" r="3.05"/><circle cx="337.3" cy="358.7" r="3.05"/><circle cx="335.2" cy="349.8" r="3.05"/><circle cx="346.1" cy="356.2" r="3.05"/><circle cx="353.5" cy="366" r="3.05"/><circle cx="355.9" cy="349.4" r="3.05"/><circle cx="361" cy="357.6" r="3.05"/><circle cx="370.5" cy="356.2" r="3.05"/><circle cx="364.1" cy="369.1" r="3.05"/><circle cx="332.4" cy="370" r="3.05"/><circle cx="395.1" cy="370.3" r="3.05"/><circle cx="401.5" cy="381.8" r="3.05"/><circle cx="403.6" cy="390.7" r="3.05"/><circle cx="411.8" cy="373.4" r="3.05"/><circle cx="428.3" cy="374.8" r="3.05"/><circle cx="423.4" cy="350.2" r="3.05"/><circle cx="431.1" cy="405.5" r="3.05"/><circle cx="431.8" cy="412.9" r="3.05"/><circle cx="407.8" cy="411.9" r="3.05"/><circle cx="388.1" cy="411.2" r="3.05"/><circle cx="391.6" cy="423.6" r="3.05"/><circle cx="378.9" cy="428.4" r="3.05"/><circle cx="370.5" cy="425.3" r="3.05"/><circle cx="367.6" cy="413.3" r="3.05"/><circle cx="375.4" cy="415.4" r="3.05"/><circle cx="380.3" cy="419.6" r="3.05"/><circle cx="353.5" cy="428.1" r="3.05"/><circle cx="361.3" cy="426.7" r="3.05"/><circle cx="333.1" cy="427.4" r="3.05"/><circle cx="324.6" cy="423.9" r="3.05"/><circle cx="318.3" cy="414.7" r="3.05"/><circle cx="322.5" cy="404.8" r="3.05"/><circle cx="316.2" cy="397.1" r="3.05"/><circle cx="324.6" cy="392.8" r="3.05"/><circle cx="330.3" cy="399.9" r="3.05"/><circle cx="333.8" cy="390" r="3.05"/><circle cx="298.5" cy="397.8" r="3.05"/><circle cx="278.1" cy="398.5" r="3.05"/><circle cx="288.7" cy="387.2" r="3.05"/><circle cx="285.1" cy="411.9" r="3.05"/><circle cx="273.9" cy="411.9" r="3.05"/><circle cx="245.6" cy="409.1" r="3.05"/><circle cx="281.6" cy="424.6" r="3.05"/><circle cx="306.3" cy="426.7" r="3.05"/><circle cx="310.5" cy="430.2" r="3.05"/><circle cx="278.1" cy="449.3" r="3.05"/><circle cx="360.6" cy="454.2" r="3.05"/><circle cx="396.6" cy="460.5" r="3.05"/><circle cx="407.8" cy="434.5" r="3.05"/><circle cx="411.4" cy="428.8" r="3.05"/><circle cx="440.3" cy="421.1" r="3.05"/><circle cx="419.1" cy="477.5" r="3.05"/><circle cx="321.8" cy="448.6" r="3.05"/><circle cx="312.6" cy="447.9" r="3.05"/><circle cx="382.5" cy="438.7" r="3.05"/><circle cx="434.8" cy="298.1" r="3.05"/><circle cx="456" cy="310" r="3.05"/><circle cx="472.9" cy="317.8" r="3.05"/><circle cx="422.5" cy="322" r="3.05"/><circle cx="464.4" cy="342.8" r="3.05"/><circle cx="479.5" cy="339.9" r="3.05"/><circle cx="500.7" cy="343.8" r="3.05"/><circle cx="490.5" cy="350.5" r="3.05"/><circle cx="515.6" cy="350.2" r="3.05"/><circle cx="468.7" cy="355.9" r="3.05"/><circle cx="542" cy="338.1" r="3.05"/><circle cx="545.5" cy="360.1" r="3.05"/><circle cx="503.5" cy="369.6" r="3.05"/><circle cx="511.4" cy="377.6" r="3.05"/><circle cx="428.5" cy="375.2" r="3.05"/><circle cx="469.4" cy="389" r="3.05"/><circle cx="468.4" cy="400.6" r="3.05"/><circle cx="550" cy="387.5" r="3.05"/><circle cx="511.4" cy="410.9" r="3.05"/><circle cx="431.6" cy="405.8" r="3.05"/><circle cx="489.4" cy="422.2" r="3.05"/><circle cx="490.8" cy="433" r="3.05"/><circle cx="562" cy="442.5" r="3.05"/><circle cx="477.5" cy="455.6" r="3.05"/><circle cx="471.9" cy="470.7" r="3.05"/><circle cx="542.4" cy="477.5" r="3.05"/><circle cx="431.3" cy="478.2" r="3.05"/><circle cx="509.6" cy="280" r="3.05"/><circle cx="230.7" cy="473.8" r="3.05"/><circle cx="210.9" cy="487.1" r="3.05"/><circle cx="190.4" cy="505.1" r="3.05"/><circle cx="169.9" cy="536.6" r="3.05"/><circle cx="173.6" cy="567.9" r="3.05"/><circle cx="198.1" cy="590" r="3.05"/><circle cx="237.6" cy="513.3" r="3.05"/><circle cx="263" cy="489.6" r="3.05"/><circle cx="286" cy="496.7" r="3.05"/><circle cx="297.7" cy="495.3" r="3.05"/><circle cx="317" cy="505.8" r="3.05"/><circle cx="201.4" cy="542.9" r="3.05"/><circle cx="240.4" cy="547.4" r="3.05"/><circle cx="254" cy="553.4" r="3.05"/><circle cx="262" cy="543.9" r="3.05"/><circle cx="269.5" cy="557.7" r="3.05"/><circle cx="283.6" cy="564.1" r="3.05"/><circle cx="298" cy="530.2" r="3.05"/><circle cx="280.3" cy="536.2" r="3.05"/><circle cx="323.4" cy="572.6" r="3.05"/><circle cx="258.2" cy="596.1" r="3.05"/><circle cx="241.6" cy="619.1" r="3.05"/><circle cx="243.2" cy="630.4" r="3.05"/><circle cx="299.1" cy="614.4" r="3.05"/><circle cx="336.3" cy="611.2" r="3.05"/><circle cx="340" cy="560.1" r="3.05"/><circle cx="338.9" cy="657.5" r="3.05"/><circle cx="249.2" cy="529.4" r="3.05"/><circle cx="396.9" cy="461.4" r="3.05"/><circle cx="419.4" cy="478.1" r="3.05"/><circle cx="431.4" cy="478.1" r="3.05"/><circle cx="472" cy="470.6" r="3.05"/><circle cx="490.2" cy="491.7" r="3.05"/><circle cx="441.3" cy="513.3" r="3.05"/><circle cx="348.2" cy="499.2" r="3.05"/><circle cx="361.6" cy="498.8" r="3.05"/><circle cx="345.1" cy="528.7" r="3.05"/><circle cx="362.3" cy="525.2" r="3.05"/><circle cx="435.7" cy="543.2" r="3.05"/><circle cx="431.4" cy="550" r="3.05"/><circle cx="455.4" cy="557.3" r="3.05"/><circle cx="384.2" cy="578.5" r="3.05"/><circle cx="401.1" cy="584.4" r="3.05"/><circle cx="368.9" cy="614.4" r="3.05"/><circle cx="407.2" cy="619.4" r="3.05"/><circle cx="405.3" cy="644.1" r="3.05"/><circle cx="354.6" cy="637.7" r="3.05"/><circle cx="370.8" cy="655.3" r="3.05"/><circle cx="391.2" cy="656.8" r="3.05"/><circle cx="504.1" cy="622.9" r="3.05"/><circle cx="572.3" cy="489.6" r="3.05"/><circle cx="589.8" cy="503.3" r="3.05"/><circle cx="592.3" cy="522.3" r="3.05"/><circle cx="584.1" cy="541.4" r="3.05"/><circle cx="572.6" cy="558" r="3.05"/><circle cx="558.9" cy="573.3" r="3.05"/><circle cx="543" cy="586.9" r="3.05"/><circle cx="523.9" cy="598.9" r="3.05"/><circle cx="225.9" cy="339" r="3.05"/><circle cx="259.8" cy="354.6" r="3.05"/><circle cx="238.3" cy="359.5" r="3.05"/><circle cx="287.3" cy="339.5" r="3.05"/><circle cx="281.2" cy="357.4" r="3.05"/><circle cx="245.7" cy="409.6" r="3.05"/><circle cx="233.2" cy="427.5" r="3.05"/><circle cx="224.2" cy="450.5" r="3.05"/><circle cx="262.9" cy="490" r="3.05"/><circle cx="278.8" cy="449.5" r="3.05"/><circle cx="281.2" cy="425.1" r="3.05"/><circle cx="285.1" cy="412.4" r="3.05"/><circle cx="278.1" cy="399" r="3.05"/><circle cx="299.3" cy="398.3" r="3.05"/><circle cx="298.5" cy="333.4" r="3.05"/><circle cx="309.8" cy="327.1" r="3.05"/><circle cx="316.9" cy="324.2" r="3.05"/></g></g>
</defs>
<rect width="1418" height="2134" fill="#fff"/>
<rect x="8.6" y="8.6" width="1401.5" height="1367.6" rx="36.5" ry="36.5" fill="none" stroke="#111" stroke-width="2.7"/>
<rect x="8.6" y="1408.4" width="1401.5" height="716.8" rx="36.5" ry="36.5" fill="none" stroke="#111" stroke-width="2.7"/>
<circle cx="124" cy="275.2" r="89" fill="#e6e6e6"/>
<circle cx="1076" cy="150.2" r="89" fill="#e6e6e6"/>
<rect x="1254.5" y="571.5" width="47.8" height="319.5" fill="url(#g1)"/>
<rect x="1258" y="1646" width="47.3" height="318" fill="url(#g2)"/>
<g transform="translate(0 0)"><use href="#net"/><g stroke="#000" stroke-width="2.9"><circle cx="354.2" cy="389.3" r="14.6" fill="#a9cff0"/><circle cx="487" cy="170.5" r="10.6" fill="#335bab"/><circle cx="377.9" cy="295.3" r="10.1" fill="#335bab"/><circle cx="285.3" cy="527.4" r="10.1" fill="#f59396"/><circle cx="265.4" cy="404.3" r="9.3" fill="#e2f0fb"/><circle cx="422.3" cy="396.4" r="9" fill="#4275bd"/><circle cx="251.8" cy="608.8" r="9" fill="#c3dff5"/><circle cx="398.7" cy="260.8" r="8.7" fill="#335bab"/><circle cx="410.5" cy="305.5" r="8.7" fill="#6ca2da"/><circle cx="442.8" cy="361.1" r="8.7" fill="#fdebeb"/><circle cx="276.5" cy="384" r="8.7" fill="#6ca2da"/><circle cx="302.4" cy="416" r="8.7" fill="#335bab"/><circle cx="328.9" cy="414.7" r="8.7" fill="#4275bd"/><circle cx="409.3" cy="449.3" r="8.7" fill="#bbd9f3"/><circle cx="357.4" cy="486.8" r="8.7" fill="#f4878a"/><circle cx="497.6" cy="459.6" r="8.7" fill="#bbd9f3"/><circle cx="301.2" cy="554.8" r="8.7" fill="#ffffff"/><circle cx="137.3" cy="256.6" r="8.3" fill="#ed2028"/><circle cx="421.9" cy="363.4" r="8.3" fill="#fbd6d6"/><circle cx="527.9" cy="440.8" r="8.3" fill="#335bab"/><circle cx="216.4" cy="372.9" r="8.2" fill="#4275bd"/><circle cx="456.3" cy="478" r="8.1" fill="#e2f0fb"/><circle cx="555.7" cy="220.2" r="7.8" fill="#6ca2da"/><circle cx="526.5" cy="250.9" r="7.8" fill="#6ca2da"/><circle cx="355.7" cy="309.6" r="7.8" fill="#e2f0fb"/><circle cx="306" cy="453" r="7.8" fill="#4275bd"/><circle cx="271.5" cy="579.6" r="7.8" fill="#6ca2da"/><circle cx="397.3" cy="517.1" r="7.8" fill="#fef5f5"/><circle cx="150" cy="308.3" r="7.6" fill="#f0575c"/><circle cx="434.4" cy="145.8" r="7.6" fill="#4275bd"/><circle cx="531.8" cy="214" r="7.6" fill="#4275bd"/><circle cx="415.6" cy="419.4" r="7.6" fill="#a9cff0"/><circle cx="424.5" cy="441.8" r="7.6" fill="#6ca2da"/><circle cx="328.9" cy="462.5" r="7.6" fill="#fbd6d6"/><circle cx="317.4" cy="636" r="7.6" fill="#ebf5fc"/><circle cx="389.8" cy="535.5" r="7.6" fill="#f69fa1"/><circle cx="517.5" cy="509.5" r="7.6" fill="#3f70ba"/><circle cx="249.2" cy="319.7" r="7.5" fill="#8a161a"/><circle cx="324.8" cy="534" r="7.4" fill="#fcdfdf"/><circle cx="131.6" cy="284.1" r="7.3" fill="#ed2028"/><circle cx="261.4" cy="219.9" r="7.3" fill="#6ca2da"/><circle cx="470.8" cy="120.9" r="7.3" fill="#4275bd"/><circle cx="343" cy="335.7" r="7.3" fill="#4275bd"/><circle cx="402.2" cy="420.3" r="7.3" fill="#a9cff0"/><circle cx="375.4" cy="441.9" r="7.3" fill="#a9cff0"/><circle cx="482.1" cy="362.5" r="7.3" fill="#fbd6d6"/><circle cx="110.8" cy="248.4" r="6.9" fill="#ed2028"/><circle cx="238.5" cy="382.6" r="6.9" fill="#335bab"/><circle cx="223.1" cy="396.9" r="6.9" fill="#335bab"/><circle cx="191.8" cy="405.3" r="6.9" fill="#335bab"/><circle cx="351.1" cy="265.7" r="6.9" fill="#feefef"/><circle cx="373.7" cy="194.8" r="6.9" fill="#4275bd"/><circle cx="382.2" cy="253.7" r="6.9" fill="#335bab"/><circle cx="462.7" cy="206.5" r="6.9" fill="#a9cff0"/><circle cx="370.5" cy="336.1" r="6.9" fill="#4275bd"/><circle cx="400.8" cy="334.7" r="6.9" fill="#6ca2da"/><circle cx="438.5" cy="338.5" r="6.9" fill="#4275bd"/><circle cx="288.7" cy="367.4" r="6.9" fill="#f0575c"/><circle cx="303.5" cy="379.9" r="6.9" fill="#e2f0fb"/><circle cx="344.1" cy="371.7" r="6.9" fill="#6ca2da"/><circle cx="286.2" cy="437.2" r="6.9" fill="#6ca2da"/><circle cx="432.6" cy="434" r="6.9" fill="#f2696d"/><circle cx="374.2" cy="469.3" r="6.9" fill="#f59396"/><circle cx="566.3" cy="347" r="6.9" fill="#bbd9f3"/><circle cx="470.4" cy="434.9" r="6.9" fill="#a9cff0"/><circle cx="513.4" cy="435.1" r="6.9" fill="#a9cff0"/><circle cx="234.2" cy="596.1" r="6.9" fill="#a0caee"/><circle cx="343.3" cy="637.7" r="6.9" fill="#eef6fc"/><circle cx="364.4" cy="510.1" r="6.9" fill="#f0575c"/><circle cx="480.5" cy="589.8" r="6.9" fill="#293182"/><circle cx="500.8" cy="606.7" r="6.9" fill="#293182"/><circle cx="221.9" cy="282.7" r="6.4" fill="#8a161a"/><circle cx="83.3" cy="317.5" r="6.4" fill="#ed2028"/><circle cx="207.3" cy="385.2" r="6.4" fill="#e2f0fb"/><circle cx="170.9" cy="440.2" r="6.4" fill="#4275bd"/><circle cx="343.5" cy="473.3" r="6.4" fill="#fbd6d6"/><circle cx="448.9" cy="460.5" r="6.4" fill="#6ca2da"/><circle cx="234.8" cy="536.2" r="6.4" fill="#f59396"/><circle cx="432.1" cy="517.5" r="6.4" fill="#293182"/><circle cx="505.7" cy="495.4" r="6.4" fill="#2f51a4"/><circle cx="232.2" cy="368.5" r="6.3" fill="#f0575c"/><circle cx="336" cy="501.6" r="6.3" fill="#fbd6d6"/><circle cx="113.6" cy="298.8" r="6.1" fill="#ed2028"/><circle cx="208.3" cy="427.9" r="6.1" fill="#4275bd"/><circle cx="320.1" cy="248.4" r="6.1" fill="#ffffff"/><circle cx="386" cy="194.2" r="6.1" fill="#4275bd"/><circle cx="348.6" cy="318.8" r="6.1" fill="#4275bd"/><circle cx="381.7" cy="342.8" r="6.1" fill="#a9cff0"/><circle cx="385" cy="358.3" r="6.1" fill="#6ca2da"/><circle cx="391.6" cy="402.7" r="6.1" fill="#335bab"/><circle cx="297.1" cy="411.9" r="6.1" fill="#335bab"/><circle cx="357.1" cy="413.7" r="6.1" fill="#6ca2da"/><circle cx="342.7" cy="431.6" r="6.1" fill="#bbd9f3"/><circle cx="263.3" cy="463" r="6.1" fill="#fbd6d6"/><circle cx="562.7" cy="336.4" r="6.1" fill="#6ca2da"/><circle cx="316.9" cy="208.6" r="5.9" fill="#ffffff"/><circle cx="310.2" cy="300" r="5.9" fill="#6ca2da"/><circle cx="484.6" cy="131.3" r="5.9" fill="#4275bd"/><circle cx="461.2" cy="150.1" r="5.9" fill="#4275bd"/><circle cx="480.6" cy="291.5" r="5.9" fill="#6ca2da"/><circle cx="505.3" cy="295.3" r="5.9" fill="#4275bd"/><circle cx="369.8" cy="382.7" r="5.9" fill="#4275bd"/><circle cx="268" cy="431.5" r="5.9" fill="#335bab"/><circle cx="320.4" cy="456.3" r="5.9" fill="#fbd6d6"/><circle cx="220.7" cy="554.8" r="5.9" fill="#f0575c"/><circle cx="196.4" cy="571.7" r="5.9" fill="#ee2c33"/><circle cx="418.4" cy="548.2" r="5.9" fill="#f7abac"/><circle cx="138.7" cy="293.5" r="5.4" fill="#f0575c"/><circle cx="93.6" cy="327.7" r="5.4" fill="#ed2028"/><circle cx="542.4" cy="197.3" r="5.4" fill="#4275bd"/><circle cx="448.6" cy="221.3" r="5.4" fill="#a9cff0"/><circle cx="328.9" cy="316.4" r="5.4" fill="#f59396"/><circle cx="395.1" cy="344.2" r="5.4" fill="#a9cff0"/><circle cx="407.1" cy="347" r="5.4" fill="#4275bd"/><circle cx="374.7" cy="366" r="5.4" fill="#ffffff"/><circle cx="280.2" cy="370.3" r="5.4" fill="#ed2028"/><circle cx="389.9" cy="387.5" r="5.4" fill="#ffffff"/><circle cx="423.4" cy="387.4" r="5.4" fill="#4275bd"/><circle cx="488.4" cy="381.3" r="5.4" fill="#fde7e7"/><circle cx="243.2" cy="535.9" r="5.4" fill="#fde7e7"/><circle cx="289.2" cy="578.9" r="5.4" fill="#ffffff"/><circle cx="411" cy="553.4" r="5.4" fill="#f8b6b8"/><circle cx="494.9" cy="621.5" r="5.4" fill="#293182"/><circle cx="408.5" cy="361.1" r="5.1" fill="#4275bd"/><circle cx="334.2" cy="381.3" r="5.1" fill="#f59396"/><circle cx="364.1" cy="401" r="5.1" fill="#4275bd"/><circle cx="267.5" cy="415.1" r="5.1" fill="#fbd6d6"/><circle cx="366.2" cy="433.7" r="5.1" fill="#4275bd"/><circle cx="397.3" cy="444.3" r="5.1" fill="#4275bd"/><circle cx="473.6" cy="447.8" r="5.1" fill="#e12027"/><circle cx="453.6" cy="445.3" r="5.1" fill="#a9cff0"/><circle cx="206.6" cy="554.8" r="5.1" fill="#fbd6d6"/><circle cx="302.5" cy="571.4" r="5.1" fill="#7caee0"/><circle cx="198.9" cy="271.7" r="4.7" fill="#fbd6d6"/><circle cx="222.4" cy="408.2" r="4.7" fill="#335bab"/><circle cx="318.7" cy="292.1" r="4.7" fill="#f59396"/><circle cx="437.5" cy="279.1" r="4.7" fill="#6ca2da"/><circle cx="347.9" cy="326.5" r="4.7" fill="#fbd6d6"/><circle cx="357.8" cy="337.5" r="4.7" fill="#a9cff0"/><circle cx="294.7" cy="347.6" r="4.7" fill="#ed2028"/><circle cx="315.5" cy="349.1" r="4.7" fill="#fbd6d6"/><circle cx="320.7" cy="351.6" r="4.7" fill="#a9cff0"/><circle cx="316.9" cy="386.8" r="4.7" fill="#4275bd"/><circle cx="356.7" cy="464.3" r="4.7" fill="#f0575c"/><circle cx="78.8" cy="336.6" r="4.5" fill="#ed2028"/><circle cx="503.2" cy="163.8" r="4.5" fill="#2c4b9f"/><circle cx="532.4" cy="465.2" r="4.5" fill="#6ca2da"/><circle cx="458.9" cy="562.7" r="4.5" fill="#293182"/><circle cx="168.8" cy="431.4" r="4.1" fill="#4275bd"/><circle cx="433.9" cy="255.1" r="4.1" fill="#a9cff0"/><circle cx="579.1" cy="246.7" r="4.1" fill="#4275bd"/><circle cx="331" cy="309.9" r="4.1" fill="#f0575c"/><circle cx="413.5" cy="344.2" r="4.1" fill="#6ca2da"/><circle cx="380.3" cy="372.4" r="4.1" fill="#fbd6d6"/><circle cx="392.3" cy="432" r="4.1" fill="#4275bd"/><circle cx="443.7" cy="380.8" r="4.1" fill="#ffffff"/><circle cx="269.5" cy="500.6" r="4.1" fill="#a9cff0"/><circle cx="372.2" cy="526.7" r="4.1" fill="#f59396"/><circle cx="353.9" cy="537.3" r="4.1" fill="#f2696d"/><circle cx="395.1" cy="252.3" r="3.6" fill="#335bab"/><circle cx="359.2" cy="437.7" r="3.6" fill="#4275bd"/><circle cx="397.3" cy="392.8" r="3.3" fill="#4275bd"/><circle cx="289.4" cy="401" r="3.3" fill="#ffffff"/><circle cx="421.7" cy="433.7" r="3.3" fill="#335bab"/><circle cx="399.1" cy="352.2" r="3.1" fill="#4275bd"/><circle cx="231.4" cy="554.2" r="3.1" fill="#f0575c"/><circle cx="331" cy="332.2" r="2.6" fill="#fbd6d6"/><circle cx="305.6" cy="331.5" r="2.6" fill="#ffffff"/><circle cx="293.3" cy="358.3" r="2.6" fill="#ffffff"/><circle cx="313.3" cy="405.5" r="2.6" fill="#3259a9"/><circle cx="350" cy="437.3" r="2.6" fill="#ffffff"/><circle cx="300.6" cy="444.5" r="2.6" fill="#fbd6d6"/><circle cx="384.6" cy="464.5" r="2.6" fill="#a9cff0"/><circle cx="314.6" cy="519.5" r="2.6" fill="#ffffff"/><circle cx="230.8" cy="377.8" r="2.1" fill="#ffffff"/><circle cx="303.5" cy="388.3" r="2.1" fill="#ffffff"/></g></g><g transform="translate(592 0)"><use href="#net"/><g stroke="#000" stroke-width="2.9"><circle cx="354.2" cy="389.3" r="14.6" fill="#e42027"/><circle cx="487" cy="170.5" r="10.6" fill="#f2686c"/><circle cx="377.9" cy="295.3" r="10.1" fill="#d81f26"/><circle cx="285.3" cy="527.4" r="10.1" fill="#e42027"/><circle cx="265.4" cy="404.3" r="9.3" fill="#e42027"/><circle cx="422.3" cy="396.4" r="9" fill="#eb2028"/><circle cx="251.8" cy="608.8" r="9" fill="#b41c22"/><circle cx="398.7" cy="260.8" r="8.7" fill="#d31f26"/><circle cx="410.5" cy="305.5" r="8.7" fill="#b41c22"/><circle cx="442.8" cy="361.1" r="8.7" fill="#dd1f27"/><circle cx="276.5" cy="384" r="8.7" fill="#d81f26"/><circle cx="302.4" cy="416" r="8.7" fill="#e42027"/><circle cx="328.9" cy="414.7" r="8.7" fill="#e42027"/><circle cx="409.3" cy="449.3" r="8.7" fill="#ed242c"/><circle cx="357.4" cy="486.8" r="8.7" fill="#b41c22"/><circle cx="497.6" cy="459.6" r="8.7" fill="#fac9ca"/><circle cx="301.2" cy="554.8" r="8.7" fill="#e42027"/><circle cx="137.3" cy="256.6" r="8.3" fill="#cc1f25"/><circle cx="421.9" cy="363.4" r="8.3" fill="#dd1f27"/><circle cx="527.9" cy="440.8" r="8.3" fill="#fcdede"/><circle cx="216.4" cy="372.9" r="8.2" fill="#b41c22"/><circle cx="456.3" cy="478" r="8.1" fill="#f27075"/><circle cx="555.7" cy="220.2" r="7.8" fill="#ef3940"/><circle cx="526.5" cy="250.9" r="7.8" fill="#ee3138"/><circle cx="355.7" cy="309.6" r="7.8" fill="#8d161b"/><circle cx="306" cy="453" r="7.8" fill="#eb2028"/><circle cx="271.5" cy="579.6" r="7.8" fill="#d31f26"/><circle cx="397.3" cy="517.1" r="7.8" fill="#ef3940"/><circle cx="150" cy="308.3" r="7.6" fill="#e42027"/><circle cx="434.4" cy="145.8" r="7.6" fill="#f27075"/><circle cx="531.8" cy="214" r="7.6" fill="#ef464c"/><circle cx="415.6" cy="419.4" r="7.6" fill="#e42027"/><circle cx="424.5" cy="441.8" r="7.6" fill="#ed242c"/><circle cx="328.9" cy="462.5" r="7.6" fill="#c01e24"/><circle cx="317.4" cy="636" r="7.6" fill="#e42027"/><circle cx="389.8" cy="535.5" r="7.6" fill="#a71a20"/><circle cx="517.5" cy="509.5" r="7.6" fill="#e42027"/><circle cx="249.2" cy="319.7" r="7.5" fill="#9a181d"/><circle cx="324.8" cy="534" r="7.4" fill="#d81f26"/><circle cx="131.6" cy="284.1" r="7.3" fill="#d31f26"/><circle cx="261.4" cy="219.9" r="7.3" fill="#e42027"/><circle cx="470.8" cy="120.9" r="7.3" fill="#f27075"/><circle cx="343" cy="335.7" r="7.3" fill="#d81f26"/><circle cx="402.2" cy="420.3" r="7.3" fill="#e42027"/><circle cx="375.4" cy="441.9" r="7.3" fill="#e42027"/><circle cx="482.1" cy="362.5" r="7.3" fill="#cc1f25"/><circle cx="110.8" cy="248.4" r="6.9" fill="#c01e24"/><circle cx="238.5" cy="382.6" r="6.9" fill="#c01e24"/><circle cx="223.1" cy="396.9" r="6.9" fill="#bb1e24"/><circle cx="191.8" cy="405.3" r="6.9" fill="#bb1e24"/><circle cx="351.1" cy="265.7" r="6.9" fill="#ed242c"/><circle cx="373.7" cy="194.8" r="6.9" fill="#dd1f27"/><circle cx="382.2" cy="253.7" r="6.9" fill="#d81f26"/><circle cx="462.7" cy="206.5" r="6.9" fill="#a71a20"/><circle cx="370.5" cy="336.1" r="6.9" fill="#dd1f27"/><circle cx="400.8" cy="334.7" r="6.9" fill="#b41c22"/><circle cx="438.5" cy="338.5" r="6.9" fill="#e42027"/><circle cx="288.7" cy="367.4" r="6.9" fill="#d81f26"/><circle cx="303.5" cy="379.9" r="6.9" fill="#d81f26"/><circle cx="344.1" cy="371.7" r="6.9" fill="#d71f26"/><circle cx="286.2" cy="437.2" r="6.9" fill="#bb1e24"/><circle cx="432.6" cy="434" r="6.9" fill="#f37579"/><circle cx="374.2" cy="469.3" r="6.9" fill="#a71a20"/><circle cx="566.3" cy="347" r="6.9" fill="#e42027"/><circle cx="470.4" cy="434.9" r="6.9" fill="#ed242c"/><circle cx="513.4" cy="435.1" r="6.9" fill="#ee2d34"/><circle cx="234.2" cy="596.1" r="6.9" fill="#bb1e24"/><circle cx="343.3" cy="637.7" r="6.9" fill="#e42027"/><circle cx="364.4" cy="510.1" r="6.9" fill="#b41c22"/><circle cx="480.5" cy="589.8" r="6.9" fill="#ed242c"/><circle cx="500.8" cy="606.7" r="6.9" fill="#ef464c"/><circle cx="221.9" cy="282.7" r="6.4" fill="#9a181d"/><circle cx="83.3" cy="317.5" r="6.4" fill="#cc1f25"/><circle cx="207.3" cy="385.2" r="6.4" fill="#e42027"/><circle cx="170.9" cy="440.2" r="6.4" fill="#e42027"/><circle cx="343.5" cy="473.3" r="6.4" fill="#dd1f27"/><circle cx="448.9" cy="460.5" r="6.4" fill="#ed242c"/><circle cx="234.8" cy="536.2" r="6.4" fill="#dd1f27"/><circle cx="432.1" cy="517.5" r="6.4" fill="#ed242c"/><circle cx="505.7" cy="495.4" r="6.4" fill="#e42027"/><circle cx="232.2" cy="368.5" r="6.3" fill="#d81f26"/><circle cx="336" cy="501.6" r="6.3" fill="#d31f26"/><circle cx="113.6" cy="298.8" r="6.1" fill="#e42027"/><circle cx="208.3" cy="427.9" r="6.1" fill="#dd1f27"/><circle cx="320.1" cy="248.4" r="6.1" fill="#9a181d"/><circle cx="386" cy="194.2" r="6.1" fill="#dd1f27"/><circle cx="348.6" cy="318.8" r="6.1" fill="#d81f26"/><circle cx="381.7" cy="342.8" r="6.1" fill="#e42027"/><circle cx="385" cy="358.3" r="6.1" fill="#e72027"/><circle cx="391.6" cy="402.7" r="6.1" fill="#d71f26"/><circle cx="297.1" cy="411.9" r="6.1" fill="#d81f26"/><circle cx="357.1" cy="413.7" r="6.1" fill="#e82028"/><circle cx="342.7" cy="431.6" r="6.1" fill="#e42027"/><circle cx="263.3" cy="463" r="6.1" fill="#e42027"/><circle cx="562.7" cy="336.4" r="6.1" fill="#ed242c"/><circle cx="316.9" cy="208.6" r="5.9" fill="#9a181d"/><circle cx="310.2" cy="300" r="5.9" fill="#e42027"/><circle cx="484.6" cy="131.3" r="5.9" fill="#f15f64"/><circle cx="461.2" cy="150.1" r="5.9" fill="#f27075"/><circle cx="480.6" cy="291.5" r="5.9" fill="#e42027"/><circle cx="505.3" cy="295.3" r="5.9" fill="#e42027"/><circle cx="369.8" cy="382.7" r="5.9" fill="#e82028"/><circle cx="268" cy="431.5" r="5.9" fill="#e42027"/><circle cx="320.4" cy="456.3" r="5.9" fill="#e42027"/><circle cx="220.7" cy="554.8" r="5.9" fill="#e42027"/><circle cx="196.4" cy="571.7" r="5.9" fill="#eb2028"/><circle cx="418.4" cy="548.2" r="5.9" fill="#ee2d34"/><circle cx="138.7" cy="293.5" r="5.4" fill="#e42027"/><circle cx="93.6" cy="327.7" r="5.4" fill="#d81f26"/><circle cx="542.4" cy="197.3" r="5.4" fill="#ef464c"/><circle cx="448.6" cy="221.3" r="5.4" fill="#a71a20"/><circle cx="328.9" cy="316.4" r="5.4" fill="#e42027"/><circle cx="395.1" cy="344.2" r="5.4" fill="#df1f27"/><circle cx="407.1" cy="347" r="5.4" fill="#e01f27"/><circle cx="374.7" cy="366" r="5.4" fill="#d91f26"/><circle cx="280.2" cy="370.3" r="5.4" fill="#d81f26"/><circle cx="389.9" cy="387.5" r="5.4" fill="#de1f27"/><circle cx="423.4" cy="387.4" r="5.4" fill="#e42027"/><circle cx="488.4" cy="381.3" r="5.4" fill="#e42027"/><circle cx="243.2" cy="535.9" r="5.4" fill="#e42027"/><circle cx="289.2" cy="578.9" r="5.4" fill="#eb2028"/><circle cx="411" cy="553.4" r="5.4" fill="#ef3940"/><circle cx="494.9" cy="621.5" r="5.4" fill="#ed242c"/><circle cx="408.5" cy="361.1" r="5.1" fill="#e82028"/><circle cx="334.2" cy="381.3" r="5.1" fill="#d71f26"/><circle cx="364.1" cy="401" r="5.1" fill="#e82028"/><circle cx="267.5" cy="415.1" r="5.1" fill="#e42027"/><circle cx="366.2" cy="433.7" r="5.1" fill="#e01f27"/><circle cx="397.3" cy="444.3" r="5.1" fill="#e42027"/><circle cx="473.6" cy="447.8" r="5.1" fill="#f2686c"/><circle cx="453.6" cy="445.3" r="5.1" fill="#e42027"/><circle cx="206.6" cy="554.8" r="5.1" fill="#e42027"/><circle cx="302.5" cy="571.4" r="5.1" fill="#d81f26"/><circle cx="198.9" cy="271.7" r="4.7" fill="#d81f26"/><circle cx="222.4" cy="408.2" r="4.7" fill="#d81f26"/><circle cx="318.7" cy="292.1" r="4.7" fill="#a71a20"/><circle cx="437.5" cy="279.1" r="4.7" fill="#c01e24"/><circle cx="347.9" cy="326.5" r="4.7" fill="#d81f26"/><circle cx="357.8" cy="337.5" r="4.7" fill="#da1f26"/><circle cx="294.7" cy="347.6" r="4.7" fill="#e42027"/><circle cx="315.5" cy="349.1" r="4.7" fill="#ed242c"/><circle cx="320.7" cy="351.6" r="4.7" fill="#e42027"/><circle cx="316.9" cy="386.8" r="4.7" fill="#e42027"/><circle cx="356.7" cy="464.3" r="4.7" fill="#e42027"/><circle cx="78.8" cy="336.6" r="4.5" fill="#d81f26"/><circle cx="503.2" cy="163.8" r="4.5" fill="#ef3940"/><circle cx="532.4" cy="465.2" r="4.5" fill="#ed242c"/><circle cx="458.9" cy="562.7" r="4.5" fill="#ed242c"/><circle cx="168.8" cy="431.4" r="4.1" fill="#d81f26"/><circle cx="433.9" cy="255.1" r="4.1" fill="#b41c22"/><circle cx="579.1" cy="246.7" r="4.1" fill="#e42027"/><circle cx="331" cy="309.9" r="4.1" fill="#a71a20"/><circle cx="413.5" cy="344.2" r="4.1" fill="#dc1f27"/><circle cx="380.3" cy="372.4" r="4.1" fill="#e01f27"/><circle cx="392.3" cy="432" r="4.1" fill="#e42027"/><circle cx="443.7" cy="380.8" r="4.1" fill="#e42027"/><circle cx="269.5" cy="500.6" r="4.1" fill="#e42027"/><circle cx="372.2" cy="526.7" r="4.1" fill="#e42027"/><circle cx="353.9" cy="537.3" r="4.1" fill="#e42027"/><circle cx="395.1" cy="252.3" r="3.6" fill="#d81f26"/><circle cx="359.2" cy="437.7" r="3.6" fill="#df1f27"/><circle cx="397.3" cy="392.8" r="3.3" fill="#e11f27"/><circle cx="289.4" cy="401" r="3.3" fill="#e42027"/><circle cx="421.7" cy="433.7" r="3.3" fill="#e42027"/><circle cx="399.1" cy="352.2" r="3.1" fill="#d91f26"/><circle cx="231.4" cy="554.2" r="3.1" fill="#e42027"/><circle cx="331" cy="332.2" r="2.6" fill="#da1f26"/><circle cx="305.6" cy="331.5" r="2.6" fill="#e82028"/><circle cx="293.3" cy="358.3" r="2.6" fill="#e01f27"/><circle cx="313.3" cy="405.5" r="2.6" fill="#e01f27"/><circle cx="350" cy="437.3" r="2.6" fill="#e42027"/><circle cx="300.6" cy="444.5" r="2.6" fill="#e42027"/><circle cx="384.6" cy="464.5" r="2.6" fill="#e01f27"/><circle cx="314.6" cy="519.5" r="2.6" fill="#e32027"/><circle cx="230.8" cy="377.8" r="2.1" fill="#e62027"/><circle cx="303.5" cy="388.3" r="2.1" fill="#db1f26"/></g></g><g transform="translate(0 671)"><use href="#net"/><g stroke="#000" stroke-width="2.9"><circle cx="354.2" cy="389.3" r="14.6" fill="#ed2028"/><circle cx="487" cy="170.5" r="10.6" fill="#c51e25"/><circle cx="377.9" cy="295.3" r="10.1" fill="#dd1f27"/><circle cx="285.3" cy="527.4" r="10.1" fill="#dd1f27"/><circle cx="265.4" cy="404.3" r="9.3" fill="#ed2028"/><circle cx="422.3" cy="396.4" r="9" fill="#b61d23"/><circle cx="251.8" cy="608.8" r="9" fill="#3c6bb7"/><circle cx="398.7" cy="260.8" r="8.7" fill="#ca1e25"/><circle cx="410.5" cy="305.5" r="8.7" fill="#3156a8"/><circle cx="442.8" cy="361.1" r="8.7" fill="#e12027"/><circle cx="276.5" cy="384" r="8.7" fill="#ef4248"/><circle cx="302.4" cy="416" r="8.7" fill="#ed2028"/><circle cx="328.9" cy="414.7" r="8.7" fill="#f04a50"/><circle cx="409.3" cy="449.3" r="8.7" fill="#dd1f27"/><circle cx="357.4" cy="486.8" r="8.7" fill="#3c6bb7"/><circle cx="497.6" cy="459.6" r="8.7" fill="#fcdede"/><circle cx="301.2" cy="554.8" r="8.7" fill="#4275bd"/><circle cx="137.3" cy="256.6" r="8.3" fill="#dd1f27"/><circle cx="421.9" cy="363.4" r="8.3" fill="#e12027"/><circle cx="527.9" cy="440.8" r="8.3" fill="#578dcd"/><circle cx="216.4" cy="372.9" r="8.2" fill="#ed2028"/><circle cx="456.3" cy="478" r="8.1" fill="#ee2d34"/><circle cx="555.7" cy="220.2" r="7.8" fill="#d81f26"/><circle cx="526.5" cy="250.9" r="7.8" fill="#ce1f25"/><circle cx="355.7" cy="309.6" r="7.8" fill="#5187ca"/><circle cx="306" cy="453" r="7.8" fill="#dd1f27"/><circle cx="271.5" cy="579.6" r="7.8" fill="#4275bd"/><circle cx="397.3" cy="517.1" r="7.8" fill="#dd1f27"/><circle cx="150" cy="308.3" r="7.6" fill="#dd1f27"/><circle cx="434.4" cy="145.8" r="7.6" fill="#ce1f25"/><circle cx="531.8" cy="214" r="7.6" fill="#d31f26"/><circle cx="415.6" cy="419.4" r="7.6" fill="#487ec4"/><circle cx="424.5" cy="441.8" r="7.6" fill="#f04a50"/><circle cx="328.9" cy="462.5" r="7.6" fill="#578dcd"/><circle cx="317.4" cy="636" r="7.6" fill="#ed2028"/><circle cx="389.8" cy="535.5" r="7.6" fill="#5187ca"/><circle cx="517.5" cy="509.5" r="7.6" fill="#487ec4"/><circle cx="249.2" cy="319.7" r="7.5" fill="#f0575c"/><circle cx="324.8" cy="534" r="7.4" fill="#3866b3"/><circle cx="131.6" cy="284.1" r="7.3" fill="#d61f26"/><circle cx="261.4" cy="219.9" r="7.3" fill="#e12027"/><circle cx="470.8" cy="120.9" r="7.3" fill="#ca1e25"/><circle cx="343" cy="335.7" r="7.3" fill="#ed2028"/><circle cx="402.2" cy="420.3" r="7.3" fill="#ed2028"/><circle cx="375.4" cy="441.9" r="7.3" fill="#ed2028"/><circle cx="482.1" cy="362.5" r="7.3" fill="#dd1f27"/><circle cx="110.8" cy="248.4" r="6.9" fill="#e12027"/><circle cx="238.5" cy="382.6" r="6.9" fill="#f04a50"/><circle cx="223.1" cy="396.9" r="6.9" fill="#ed2028"/><circle cx="191.8" cy="405.3" r="6.9" fill="#ed2028"/><circle cx="351.1" cy="265.7" r="6.9" fill="#e62027"/><circle cx="373.7" cy="194.8" r="6.9" fill="#dd1f27"/><circle cx="382.2" cy="253.7" r="6.9" fill="#dd1f27"/><circle cx="462.7" cy="206.5" r="6.9" fill="#3054a6"/><circle cx="370.5" cy="336.1" r="6.9" fill="#ed2028"/><circle cx="400.8" cy="334.7" r="6.9" fill="#3c6bb7"/><circle cx="438.5" cy="338.5" r="6.9" fill="#d61f26"/><circle cx="288.7" cy="367.4" r="6.9" fill="#ed2028"/><circle cx="303.5" cy="379.9" r="6.9" fill="#ed2028"/><circle cx="344.1" cy="371.7" r="6.9" fill="#ea2028"/><circle cx="286.2" cy="437.2" r="6.9" fill="#5187ca"/><circle cx="432.6" cy="434" r="6.9" fill="#f9bdbe"/><circle cx="374.2" cy="469.3" r="6.9" fill="#7aaddf"/><circle cx="566.3" cy="347" r="6.9" fill="#e82028"/><circle cx="470.4" cy="434.9" r="6.9" fill="#d61f26"/><circle cx="513.4" cy="435.1" r="6.9" fill="#d61f26"/><circle cx="234.2" cy="596.1" r="6.9" fill="#4275bd"/><circle cx="343.3" cy="637.7" r="6.9" fill="#ed2028"/><circle cx="364.4" cy="510.1" r="6.9" fill="#92bfe9"/><circle cx="480.5" cy="589.8" r="6.9" fill="#d61f26"/><circle cx="500.8" cy="606.7" r="6.9" fill="#ce1f25"/><circle cx="221.9" cy="282.7" r="6.4" fill="#ed2028"/><circle cx="83.3" cy="317.5" r="6.4" fill="#dd1f27"/><circle cx="207.3" cy="385.2" r="6.4" fill="#e12027"/><circle cx="170.9" cy="440.2" r="6.4" fill="#e12027"/><circle cx="343.5" cy="473.3" r="6.4" fill="#5187ca"/><circle cx="448.9" cy="460.5" r="6.4" fill="#4275bd"/><circle cx="234.8" cy="536.2" r="6.4" fill="#ed2028"/><circle cx="432.1" cy="517.5" r="6.4" fill="#d61f26"/><circle cx="505.7" cy="495.4" r="6.4" fill="#fde5e5"/><circle cx="232.2" cy="368.5" r="6.3" fill="#dd1f27"/><circle cx="336" cy="501.6" r="6.3" fill="#4275bd"/><circle cx="113.6" cy="298.8" r="6.1" fill="#e62027"/><circle cx="208.3" cy="427.9" r="6.1" fill="#dd1f27"/><circle cx="320.1" cy="248.4" r="6.1" fill="#355fae"/><circle cx="386" cy="194.2" r="6.1" fill="#dd1f27"/><circle cx="348.6" cy="318.8" r="6.1" fill="#ed2028"/><circle cx="381.7" cy="342.8" r="6.1" fill="#ed2028"/><circle cx="385" cy="358.3" r="6.1" fill="#ed2028"/><circle cx="391.6" cy="402.7" r="6.1" fill="#ca1e25"/><circle cx="297.1" cy="411.9" r="6.1" fill="#ed2028"/><circle cx="357.1" cy="413.7" r="6.1" fill="#f37579"/><circle cx="342.7" cy="431.6" r="6.1" fill="#5d93d1"/><circle cx="263.3" cy="463" r="6.1" fill="#e62027"/><circle cx="562.7" cy="336.4" r="6.1" fill="#d61f26"/><circle cx="316.9" cy="208.6" r="5.9" fill="#3662b0"/><circle cx="310.2" cy="300" r="5.9" fill="#e12027"/><circle cx="484.6" cy="131.3" r="5.9" fill="#ce1f25"/><circle cx="461.2" cy="150.1" r="5.9" fill="#ce1f25"/><circle cx="480.6" cy="291.5" r="5.9" fill="#d61f26"/><circle cx="505.3" cy="295.3" r="5.9" fill="#d61f26"/><circle cx="369.8" cy="382.7" r="5.9" fill="#f6a0a2"/><circle cx="268" cy="431.5" r="5.9" fill="#ed2028"/><circle cx="320.4" cy="456.3" r="5.9" fill="#487ec4"/><circle cx="220.7" cy="554.8" r="5.9" fill="#dd1f27"/><circle cx="196.4" cy="571.7" r="5.9" fill="#e12027"/><circle cx="418.4" cy="548.2" r="5.9" fill="#dd1f27"/><circle cx="138.7" cy="293.5" r="5.4" fill="#dd1f27"/><circle cx="93.6" cy="327.7" r="5.4" fill="#e62027"/><circle cx="542.4" cy="197.3" r="5.4" fill="#dd1f27"/><circle cx="448.6" cy="221.3" r="5.4" fill="#3054a6"/><circle cx="328.9" cy="316.4" r="5.4" fill="#ed2028"/><circle cx="395.1" cy="344.2" r="5.4" fill="#ed2028"/><circle cx="407.1" cy="347" r="5.4" fill="#ed2028"/><circle cx="374.7" cy="366" r="5.4" fill="#fcdede"/><circle cx="280.2" cy="370.3" r="5.4" fill="#bfdcf4"/><circle cx="389.9" cy="387.5" r="5.4" fill="#ed2028"/><circle cx="423.4" cy="387.4" r="5.4" fill="#ca1e25"/><circle cx="488.4" cy="381.3" r="5.4" fill="#e12027"/><circle cx="243.2" cy="535.9" r="5.4" fill="#dd1f27"/><circle cx="289.2" cy="578.9" r="5.4" fill="#ed2028"/><circle cx="411" cy="553.4" r="5.4" fill="#ed2028"/><circle cx="494.9" cy="621.5" r="5.4" fill="#dd1f27"/><circle cx="408.5" cy="361.1" r="5.1" fill="#ed2028"/><circle cx="334.2" cy="381.3" r="5.1" fill="#e82028"/><circle cx="364.1" cy="401" r="5.1" fill="#ed2028"/><circle cx="267.5" cy="415.1" r="5.1" fill="#ed2028"/><circle cx="366.2" cy="433.7" r="5.1" fill="#ed2028"/><circle cx="397.3" cy="444.3" r="5.1" fill="#f6a0a2"/><circle cx="473.6" cy="447.8" r="5.1" fill="#f48a8d"/><circle cx="453.6" cy="445.3" r="5.1" fill="#4275bd"/><circle cx="206.6" cy="554.8" r="5.1" fill="#ed2028"/><circle cx="302.5" cy="571.4" r="5.1" fill="#3662b0"/><circle cx="198.9" cy="271.7" r="4.7" fill="#ed2028"/><circle cx="222.4" cy="408.2" r="4.7" fill="#ed2028"/><circle cx="318.7" cy="292.1" r="4.7" fill="#a9cff0"/><circle cx="437.5" cy="279.1" r="4.7" fill="#3054a6"/><circle cx="347.9" cy="326.5" r="4.7" fill="#ed2028"/><circle cx="357.8" cy="337.5" r="4.7" fill="#e72027"/><circle cx="294.7" cy="347.6" r="4.7" fill="#f37579"/><circle cx="315.5" cy="349.1" r="4.7" fill="#ed2028"/><circle cx="320.7" cy="351.6" r="4.7" fill="#ed2028"/><circle cx="316.9" cy="386.8" r="4.7" fill="#ed2028"/><circle cx="356.7" cy="464.3" r="4.7" fill="#84b4e3"/><circle cx="78.8" cy="336.6" r="4.5" fill="#ed2028"/><circle cx="503.2" cy="163.8" r="4.5" fill="#ce1f25"/><circle cx="532.4" cy="465.2" r="4.5" fill="#ed2028"/><circle cx="458.9" cy="562.7" r="4.5" fill="#e12027"/><circle cx="168.8" cy="431.4" r="4.1" fill="#d61f26"/><circle cx="433.9" cy="255.1" r="4.1" fill="#2c4ca0"/><circle cx="579.1" cy="246.7" r="4.1" fill="#dd1f27"/><circle cx="331" cy="309.9" r="4.1" fill="#3c6bb7"/><circle cx="413.5" cy="344.2" r="4.1" fill="#ed2028"/><circle cx="380.3" cy="372.4" r="4.1" fill="#eaf4fc"/><circle cx="392.3" cy="432" r="4.1" fill="#ed2028"/><circle cx="443.7" cy="380.8" r="4.1" fill="#e12027"/><circle cx="269.5" cy="500.6" r="4.1" fill="#dd1f27"/><circle cx="372.2" cy="526.7" r="4.1" fill="#4275bd"/><circle cx="353.9" cy="537.3" r="4.1" fill="#4275bd"/><circle cx="395.1" cy="252.3" r="3.6" fill="#e62027"/><circle cx="359.2" cy="437.7" r="3.6" fill="#ed2028"/><circle cx="397.3" cy="392.8" r="3.3" fill="#ed2028"/><circle cx="289.4" cy="401" r="3.3" fill="#eb2028"/><circle cx="421.7" cy="433.7" r="3.3" fill="#ed2028"/><circle cx="399.1" cy="352.2" r="3.1" fill="#ee2b33"/><circle cx="231.4" cy="554.2" r="3.1" fill="#ed2028"/><circle cx="331" cy="332.2" r="2.6" fill="#ffffff"/><circle cx="305.6" cy="331.5" r="2.6" fill="#ed2028"/><circle cx="293.3" cy="358.3" r="2.6" fill="#ffffff"/><circle cx="313.3" cy="405.5" r="2.6" fill="#ed252d"/><circle cx="350" cy="437.3" r="2.6" fill="#ed2028"/><circle cx="300.6" cy="444.5" r="2.6" fill="#ed2028"/><circle cx="384.6" cy="464.5" r="2.6" fill="#e12027"/><circle cx="314.6" cy="519.5" r="2.6" fill="#3662b0"/><circle cx="230.8" cy="377.8" r="2.1" fill="#e72027"/><circle cx="303.5" cy="388.3" r="2.1" fill="#ee2a32"/></g></g><g transform="translate(592 671)"><use href="#net"/><g stroke="#000" stroke-width="2.9"><circle cx="354.2" cy="389.3" r="14.6" fill="#578dcd"/><circle cx="487" cy="170.5" r="10.6" fill="#2e51a4"/><circle cx="377.9" cy="295.3" r="10.1" fill="#3866b3"/><circle cx="285.3" cy="527.4" r="10.1" fill="#3866b3"/><circle cx="265.4" cy="404.3" r="9.3" fill="#4275bd"/><circle cx="422.3" cy="396.4" r="9" fill="#3662b0"/><circle cx="251.8" cy="608.8" r="9" fill="#ed2028"/><circle cx="398.7" cy="260.8" r="8.7" fill="#3662b0"/><circle cx="410.5" cy="305.5" r="8.7" fill="#ed2028"/><circle cx="442.8" cy="361.1" r="8.7" fill="#3662b0"/><circle cx="276.5" cy="384" r="8.7" fill="#3c6bb7"/><circle cx="302.4" cy="416" r="8.7" fill="#3c6bb7"/><circle cx="328.9" cy="414.7" r="8.7" fill="#4275bd"/><circle cx="409.3" cy="449.3" r="8.7" fill="#4275bd"/><circle cx="357.4" cy="486.8" r="8.7" fill="#dd1f27"/><circle cx="497.6" cy="459.6" r="8.7" fill="#bfdcf4"/><circle cx="301.2" cy="554.8" r="8.7" fill="#e62027"/><circle cx="137.3" cy="256.6" r="8.3" fill="#3662b0"/><circle cx="421.9" cy="363.4" r="8.3" fill="#3662b0"/><circle cx="527.9" cy="440.8" r="8.3" fill="#a0caee"/><circle cx="216.4" cy="372.9" r="8.2" fill="#3866b3"/><circle cx="456.3" cy="478" r="8.1" fill="#335bab"/><circle cx="555.7" cy="220.2" r="7.8" fill="#3156a8"/><circle cx="526.5" cy="250.9" r="7.8" fill="#3054a6"/><circle cx="355.7" cy="309.6" r="7.8" fill="#ed2028"/><circle cx="306" cy="453" r="7.8" fill="#29459b"/><circle cx="271.5" cy="579.6" r="7.8" fill="#f04a50"/><circle cx="397.3" cy="517.1" r="7.8" fill="#3054a6"/><circle cx="150" cy="308.3" r="7.6" fill="#3662b0"/><circle cx="434.4" cy="145.8" r="7.6" fill="#3156a8"/><circle cx="531.8" cy="214" r="7.6" fill="#3054a6"/><circle cx="415.6" cy="419.4" r="7.6" fill="#ed2028"/><circle cx="424.5" cy="441.8" r="7.6" fill="#4275bd"/><circle cx="328.9" cy="462.5" r="7.6" fill="#ee353c"/><circle cx="317.4" cy="636" r="7.6" fill="#4071bb"/><circle cx="389.8" cy="535.5" r="7.6" fill="#d61f26"/><circle cx="517.5" cy="509.5" r="7.6" fill="#f0575c"/><circle cx="249.2" cy="319.7" r="7.5" fill="#5187ca"/><circle cx="324.8" cy="534" r="7.4" fill="#d61f26"/><circle cx="131.6" cy="284.1" r="7.3" fill="#3866b3"/><circle cx="261.4" cy="219.9" r="7.3" fill="#5187ca"/><circle cx="470.8" cy="120.9" r="7.3" fill="#3054a6"/><circle cx="343" cy="335.7" r="7.3" fill="#3c6bb7"/><circle cx="402.2" cy="420.3" r="7.3" fill="#3c6bb7"/><circle cx="375.4" cy="441.9" r="7.3" fill="#487ec4"/><circle cx="482.1" cy="362.5" r="7.3" fill="#578dcd"/><circle cx="110.8" cy="248.4" r="6.9" fill="#3866b3"/><circle cx="238.5" cy="382.6" r="6.9" fill="#3c6bb7"/><circle cx="223.1" cy="396.9" r="6.9" fill="#3c6bb7"/><circle cx="191.8" cy="405.3" r="6.9" fill="#4275bd"/><circle cx="351.1" cy="265.7" r="6.9" fill="#92bfe9"/><circle cx="373.7" cy="194.8" r="6.9" fill="#3866b3"/><circle cx="382.2" cy="253.7" r="6.9" fill="#3662b0"/><circle cx="462.7" cy="206.5" r="6.9" fill="#ed2028"/><circle cx="370.5" cy="336.1" r="6.9" fill="#3c6bb7"/><circle cx="400.8" cy="334.7" r="6.9" fill="#ed2028"/><circle cx="438.5" cy="338.5" r="6.9" fill="#3866b3"/><circle cx="288.7" cy="367.4" r="6.9" fill="#4275bd"/><circle cx="303.5" cy="379.9" r="6.9" fill="#3662b0"/><circle cx="344.1" cy="371.7" r="6.9" fill="#3054a6"/><circle cx="286.2" cy="437.2" r="6.9" fill="#ed2028"/><circle cx="432.6" cy="434" r="6.9" fill="#5187ca"/><circle cx="374.2" cy="469.3" r="6.9" fill="#ed2028"/><circle cx="566.3" cy="347" r="6.9" fill="#3156a8"/><circle cx="470.4" cy="434.9" r="6.9" fill="#3c6bb7"/><circle cx="513.4" cy="435.1" r="6.9" fill="#3054a6"/><circle cx="234.2" cy="596.1" r="6.9" fill="#ed2028"/><circle cx="343.3" cy="637.7" r="6.9" fill="#4071bb"/><circle cx="364.4" cy="510.1" r="6.9" fill="#ca1e25"/><circle cx="480.5" cy="589.8" r="6.9" fill="#29459b"/><circle cx="500.8" cy="606.7" r="6.9" fill="#263e96"/><circle cx="221.9" cy="282.7" r="6.4" fill="#5187ca"/><circle cx="83.3" cy="317.5" r="6.4" fill="#3866b3"/><circle cx="207.3" cy="385.2" r="6.4" fill="#4275bd"/><circle cx="170.9" cy="440.2" r="6.4" fill="#355fae"/><circle cx="343.5" cy="473.3" r="6.4" fill="#e12027"/><circle cx="448.9" cy="460.5" r="6.4" fill="#f15f64"/><circle cx="234.8" cy="536.2" r="6.4" fill="#3662b0"/><circle cx="432.1" cy="517.5" r="6.4" fill="#3054a6"/><circle cx="505.7" cy="495.4" r="6.4" fill="#3054a6"/><circle cx="232.2" cy="368.5" r="6.3" fill="#3c6bb7"/><circle cx="336" cy="501.6" r="6.3" fill="#ed2028"/><circle cx="113.6" cy="298.8" r="6.1" fill="#3c6bb7"/><circle cx="208.3" cy="427.9" r="6.1" fill="#3662b0"/><circle cx="320.1" cy="248.4" r="6.1" fill="#ef3d44"/><circle cx="386" cy="194.2" r="6.1" fill="#3866b3"/><circle cx="348.6" cy="318.8" r="6.1" fill="#4275bd"/><circle cx="381.7" cy="342.8" r="6.1" fill="#3c6bb7"/><circle cx="385" cy="358.3" r="6.1" fill="#3662b0"/><circle cx="391.6" cy="402.7" r="6.1" fill="#335bab"/><circle cx="297.1" cy="411.9" r="6.1" fill="#3c6bb7"/><circle cx="357.1" cy="413.7" r="6.1" fill="#578dcd"/><circle cx="342.7" cy="431.6" r="6.1" fill="#f0575c"/><circle cx="263.3" cy="463" r="6.1" fill="#3c6bb7"/><circle cx="562.7" cy="336.4" r="6.1" fill="#3259aa"/><circle cx="316.9" cy="208.6" r="5.9" fill="#ed2028"/><circle cx="310.2" cy="300" r="5.9" fill="#4275bd"/><circle cx="484.6" cy="131.3" r="5.9" fill="#3054a6"/><circle cx="461.2" cy="150.1" r="5.9" fill="#3156a8"/><circle cx="480.6" cy="291.5" r="5.9" fill="#335bab"/><circle cx="505.3" cy="295.3" r="5.9" fill="#335bab"/><circle cx="369.8" cy="382.7" r="5.9" fill="#4275bd"/><circle cx="268" cy="431.5" r="5.9" fill="#4275bd"/><circle cx="320.4" cy="456.3" r="5.9" fill="#ee353c"/><circle cx="220.7" cy="554.8" r="5.9" fill="#335bab"/><circle cx="196.4" cy="571.7" r="5.9" fill="#3156a8"/><circle cx="418.4" cy="548.2" r="5.9" fill="#335bab"/><circle cx="138.7" cy="293.5" r="5.4" fill="#3c6bb7"/><circle cx="93.6" cy="327.7" r="5.4" fill="#4275bd"/><circle cx="542.4" cy="197.3" r="5.4" fill="#3054a6"/><circle cx="448.6" cy="221.3" r="5.4" fill="#ed2028"/><circle cx="328.9" cy="316.4" r="5.4" fill="#4275bd"/><circle cx="395.1" cy="344.2" r="5.4" fill="#3c6bb7"/><circle cx="407.1" cy="347" r="5.4" fill="#3c6bb7"/><circle cx="374.7" cy="366" r="5.4" fill="#a0caee"/><circle cx="280.2" cy="370.3" r="5.4" fill="#4275bd"/><circle cx="389.9" cy="387.5" r="5.4" fill="#3662b0"/><circle cx="423.4" cy="387.4" r="5.4" fill="#3662b0"/><circle cx="488.4" cy="381.3" r="5.4" fill="#3156a8"/><circle cx="243.2" cy="535.9" r="5.4" fill="#335bab"/><circle cx="289.2" cy="578.9" r="5.4" fill="#4275bd"/><circle cx="411" cy="553.4" r="5.4" fill="#335bab"/><circle cx="494.9" cy="621.5" r="5.4" fill="#29459b"/><circle cx="408.5" cy="361.1" r="5.1" fill="#3c6bb7"/><circle cx="334.2" cy="381.3" r="5.1" fill="#578dcd"/><circle cx="364.1" cy="401" r="5.1" fill="#d5e9f8"/><circle cx="267.5" cy="415.1" r="5.1" fill="#4275bd"/><circle cx="366.2" cy="433.7" r="5.1" fill="#3662b0"/><circle cx="397.3" cy="444.3" r="5.1" fill="#487ec4"/><circle cx="473.6" cy="447.8" r="5.1" fill="#487ec4"/><circle cx="453.6" cy="445.3" r="5.1" fill="#ed2028"/><circle cx="206.6" cy="554.8" r="5.1" fill="#3662b0"/><circle cx="302.5" cy="571.4" r="5.1" fill="#e12027"/><circle cx="198.9" cy="271.7" r="4.7" fill="#3c6bb7"/><circle cx="222.4" cy="408.2" r="4.7" fill="#487ec4"/><circle cx="318.7" cy="292.1" r="4.7" fill="#f6a0a2"/><circle cx="437.5" cy="279.1" r="4.7" fill="#ed2028"/><circle cx="347.9" cy="326.5" r="4.7" fill="#7aaddf"/><circle cx="357.8" cy="337.5" r="4.7" fill="#3c6cb7"/><circle cx="294.7" cy="347.6" r="4.7" fill="#669cd6"/><circle cx="315.5" cy="349.1" r="4.7" fill="#4275bd"/><circle cx="320.7" cy="351.6" r="4.7" fill="#669cd6"/><circle cx="316.9" cy="386.8" r="4.7" fill="#3c6bb7"/><circle cx="356.7" cy="464.3" r="4.7" fill="#ed2028"/><circle cx="78.8" cy="336.6" r="4.5" fill="#3c6bb7"/><circle cx="503.2" cy="163.8" r="4.5" fill="#3156a8"/><circle cx="532.4" cy="465.2" r="4.5" fill="#3c6bb7"/><circle cx="458.9" cy="562.7" r="4.5" fill="#3054a6"/><circle cx="168.8" cy="431.4" r="4.1" fill="#335bab"/><circle cx="433.9" cy="255.1" r="4.1" fill="#ed2028"/><circle cx="579.1" cy="246.7" r="4.1" fill="#3156a8"/><circle cx="331" cy="309.9" r="4.1" fill="#ee353c"/><circle cx="413.5" cy="344.2" r="4.1" fill="#3c6bb7"/><circle cx="380.3" cy="372.4" r="4.1" fill="#a9cff0"/><circle cx="392.3" cy="432" r="4.1" fill="#487ec4"/><circle cx="443.7" cy="380.8" r="4.1" fill="#3156a8"/><circle cx="269.5" cy="500.6" r="4.1" fill="#2c4ca0"/><circle cx="372.2" cy="526.7" r="4.1" fill="#ed2028"/><circle cx="353.9" cy="537.3" r="4.1" fill="#ed2028"/><circle cx="395.1" cy="252.3" r="3.6" fill="#3866b3"/><circle cx="359.2" cy="437.7" r="3.6" fill="#3662b0"/><circle cx="397.3" cy="392.8" r="3.3" fill="#3c6bb7"/><circle cx="289.4" cy="401" r="3.3" fill="#3f70ba"/><circle cx="421.7" cy="433.7" r="3.3" fill="#4275bd"/><circle cx="399.1" cy="352.2" r="3.1" fill="#3b69b5"/><circle cx="231.4" cy="554.2" r="3.1" fill="#3662b0"/><circle cx="331" cy="332.2" r="2.6" fill="#3d6db8"/><circle cx="305.6" cy="331.5" r="2.6" fill="#3d6db8"/><circle cx="293.3" cy="358.3" r="2.6" fill="#3865b2"/><circle cx="313.3" cy="405.5" r="2.6" fill="#3a68b4"/><circle cx="350" cy="437.3" r="2.6" fill="#4275bd"/><circle cx="300.6" cy="444.5" r="2.6" fill="#3c6bb7"/><circle cx="384.6" cy="464.5" r="2.6" fill="#3662b0"/><circle cx="314.6" cy="519.5" r="2.6" fill="#ed2028"/><circle cx="230.8" cy="377.8" r="2.1" fill="#3967b4"/><circle cx="303.5" cy="388.3" r="2.1" fill="#3764b1"/></g></g><g transform="translate(-3 1424)"><use href="#net"/><g stroke="#000" stroke-width="2.9"><circle cx="354.2" cy="389.3" r="14.6" fill="#f48a8d"/><circle cx="487" cy="170.5" r="10.6" fill="#f59396"/><circle cx="377.9" cy="295.3" r="10.1" fill="#ee353c"/><circle cx="285.3" cy="527.4" r="10.1" fill="#fac9ca"/><circle cx="265.4" cy="404.3" r="9.3" fill="#f48a8d"/><circle cx="422.3" cy="396.4" r="9" fill="#ed2028"/><circle cx="251.8" cy="608.8" r="9" fill="#f59396"/><circle cx="398.7" cy="260.8" r="8.7" fill="#ed2028"/><circle cx="410.5" cy="305.5" r="8.7" fill="#ffffff"/><circle cx="442.8" cy="361.1" r="8.7" fill="#fdebeb"/><circle cx="276.5" cy="384" r="8.7" fill="#ffffff"/><circle cx="302.4" cy="416" r="8.7" fill="#f9bdbe"/><circle cx="328.9" cy="414.7" r="8.7" fill="#f48a8d"/><circle cx="409.3" cy="449.3" r="8.7" fill="#ffffff"/><circle cx="357.4" cy="486.8" r="8.7" fill="#fbd6d6"/><circle cx="497.6" cy="459.6" r="8.7" fill="#ed2028"/><circle cx="301.2" cy="554.8" r="8.7" fill="#fbd6d6"/><circle cx="137.3" cy="256.6" r="8.3" fill="#ffffff"/><circle cx="421.9" cy="363.4" r="8.3" fill="#f48a8d"/><circle cx="527.9" cy="440.8" r="8.3" fill="#ffffff"/><circle cx="216.4" cy="372.9" r="8.2" fill="#ffffff"/><circle cx="456.3" cy="478" r="8.1" fill="#f48a8d"/><circle cx="555.7" cy="220.2" r="7.8" fill="#ffffff"/><circle cx="526.5" cy="250.9" r="7.8" fill="#f48a8d"/><circle cx="355.7" cy="309.6" r="7.8" fill="#feeeee"/><circle cx="306" cy="453" r="7.8" fill="#ffffff"/><circle cx="271.5" cy="579.6" r="7.8" fill="#f2686c"/><circle cx="397.3" cy="517.1" r="7.8" fill="#fdebeb"/><circle cx="150" cy="308.3" r="7.6" fill="#ffffff"/><circle cx="434.4" cy="145.8" r="7.6" fill="#f48a8d"/><circle cx="531.8" cy="214" r="7.6" fill="#f59396"/><circle cx="415.6" cy="419.4" r="7.6" fill="#f48a8d"/><circle cx="424.5" cy="441.8" r="7.6" fill="#f6a0a2"/><circle cx="328.9" cy="462.5" r="7.6" fill="#ffffff"/><circle cx="317.4" cy="636" r="7.6" fill="#ffffff"/><circle cx="389.8" cy="535.5" r="7.6" fill="#f48a8d"/><circle cx="517.5" cy="509.5" r="7.6" fill="#ed2028"/><circle cx="249.2" cy="319.7" r="7.5" fill="#ffffff"/><circle cx="324.8" cy="534" r="7.4" fill="#f37579"/><circle cx="131.6" cy="284.1" r="7.3" fill="#ffffff"/><circle cx="261.4" cy="219.9" r="7.3" fill="#ed2028"/><circle cx="470.8" cy="120.9" r="7.3" fill="#f48a8d"/><circle cx="343" cy="335.7" r="7.3" fill="#ffffff"/><circle cx="402.2" cy="420.3" r="7.3" fill="#f48a8d"/><circle cx="375.4" cy="441.9" r="7.3" fill="#ffffff"/><circle cx="482.1" cy="362.5" r="7.3" fill="#ffffff"/><circle cx="110.8" cy="248.4" r="6.9" fill="#ffffff"/><circle cx="238.5" cy="382.6" r="6.9" fill="#ffffff"/><circle cx="223.1" cy="396.9" r="6.9" fill="#ffffff"/><circle cx="191.8" cy="405.3" r="6.9" fill="#ffffff"/><circle cx="351.1" cy="265.7" r="6.9" fill="#ed2028"/><circle cx="373.7" cy="194.8" r="6.9" fill="#ee353c"/><circle cx="382.2" cy="253.7" r="6.9" fill="#f48a8d"/><circle cx="462.7" cy="206.5" r="6.9" fill="#ffffff"/><circle cx="370.5" cy="336.1" r="6.9" fill="#ffffff"/><circle cx="400.8" cy="334.7" r="6.9" fill="#ffffff"/><circle cx="438.5" cy="338.5" r="6.9" fill="#ef3d44"/><circle cx="288.7" cy="367.4" r="6.9" fill="#f8b5b6"/><circle cx="303.5" cy="379.9" r="6.9" fill="#ffffff"/><circle cx="344.1" cy="371.7" r="6.9" fill="#f48a8d"/><circle cx="286.2" cy="437.2" r="6.9" fill="#ffffff"/><circle cx="432.6" cy="434" r="6.9" fill="#f59396"/><circle cx="374.2" cy="469.3" r="6.9" fill="#ffffff"/><circle cx="566.3" cy="347" r="6.9" fill="#ffffff"/><circle cx="470.4" cy="434.9" r="6.9" fill="#ffffff"/><circle cx="513.4" cy="435.1" r="6.9" fill="#ffffff"/><circle cx="234.2" cy="596.1" r="6.9" fill="#f15f64"/><circle cx="343.3" cy="637.7" r="6.9" fill="#ffffff"/><circle cx="364.4" cy="510.1" r="6.9" fill="#f48285"/><circle cx="480.5" cy="589.8" r="6.9" fill="#ffffff"/><circle cx="500.8" cy="606.7" r="6.9" fill="#fbd6d6"/><circle cx="221.9" cy="282.7" r="6.4" fill="#ffffff"/><circle cx="83.3" cy="317.5" r="6.4" fill="#ffffff"/><circle cx="207.3" cy="385.2" r="6.4" fill="#ed2028"/><circle cx="170.9" cy="440.2" r="6.4" fill="#ffffff"/><circle cx="343.5" cy="473.3" r="6.4" fill="#ffffff"/><circle cx="448.9" cy="460.5" r="6.4" fill="#f37579"/><circle cx="234.8" cy="536.2" r="6.4" fill="#ffffff"/><circle cx="432.1" cy="517.5" r="6.4" fill="#ffffff"/><circle cx="505.7" cy="495.4" r="6.4" fill="#ee353c"/><circle cx="232.2" cy="368.5" r="6.3" fill="#fcdede"/><circle cx="336" cy="501.6" r="6.3" fill="#ffffff"/><circle cx="113.6" cy="298.8" r="6.1" fill="#ffffff"/><circle cx="208.3" cy="427.9" r="6.1" fill="#ffffff"/><circle cx="320.1" cy="248.4" r="6.1" fill="#f48a8d"/><circle cx="386" cy="194.2" r="6.1" fill="#f37579"/><circle cx="348.6" cy="318.8" r="6.1" fill="#ed2028"/><circle cx="381.7" cy="342.8" r="6.1" fill="#ed2028"/><circle cx="385" cy="358.3" r="6.1" fill="#ffffff"/><circle cx="391.6" cy="402.7" r="6.1" fill="#ffffff"/><circle cx="297.1" cy="411.9" r="6.1" fill="#f6a0a2"/><circle cx="357.1" cy="413.7" r="6.1" fill="#ffffff"/><circle cx="342.7" cy="431.6" r="6.1" fill="#ffffff"/><circle cx="263.3" cy="463" r="6.1" fill="#ffffff"/><circle cx="562.7" cy="336.4" r="6.1" fill="#ffffff"/><circle cx="316.9" cy="208.6" r="5.9" fill="#f48a8d"/><circle cx="310.2" cy="300" r="5.9" fill="#ed2028"/><circle cx="484.6" cy="131.3" r="5.9" fill="#f48285"/><circle cx="461.2" cy="150.1" r="5.9" fill="#f59396"/><circle cx="480.6" cy="291.5" r="5.9" fill="#ed2028"/><circle cx="505.3" cy="295.3" r="5.9" fill="#ed2028"/><circle cx="369.8" cy="382.7" r="5.9" fill="#f48285"/><circle cx="268" cy="431.5" r="5.9" fill="#f48a8d"/><circle cx="320.4" cy="456.3" r="5.9" fill="#ffffff"/><circle cx="220.7" cy="554.8" r="5.9" fill="#ffffff"/><circle cx="196.4" cy="571.7" r="5.9" fill="#ffffff"/><circle cx="418.4" cy="548.2" r="5.9" fill="#ffffff"/><circle cx="138.7" cy="293.5" r="5.4" fill="#ffffff"/><circle cx="93.6" cy="327.7" r="5.4" fill="#ffffff"/><circle cx="542.4" cy="197.3" r="5.4" fill="#ffffff"/><circle cx="448.6" cy="221.3" r="5.4" fill="#ffffff"/><circle cx="328.9" cy="316.4" r="5.4" fill="#ffffff"/><circle cx="395.1" cy="344.2" r="5.4" fill="#f6a0a2"/><circle cx="407.1" cy="347" r="5.4" fill="#ffffff"/><circle cx="374.7" cy="366" r="5.4" fill="#f6a0a2"/><circle cx="280.2" cy="370.3" r="5.4" fill="#f6a0a2"/><circle cx="389.9" cy="387.5" r="5.4" fill="#ffffff"/><circle cx="423.4" cy="387.4" r="5.4" fill="#ed2028"/><circle cx="488.4" cy="381.3" r="5.4" fill="#ffffff"/><circle cx="243.2" cy="535.9" r="5.4" fill="#ffffff"/><circle cx="289.2" cy="578.9" r="5.4" fill="#ffffff"/><circle cx="411" cy="553.4" r="5.4" fill="#ffffff"/><circle cx="494.9" cy="621.5" r="5.4" fill="#ffffff"/><circle cx="408.5" cy="361.1" r="5.1" fill="#ed2028"/><circle cx="334.2" cy="381.3" r="5.1" fill="#ed2028"/><circle cx="364.1" cy="401" r="5.1" fill="#ed2028"/><circle cx="267.5" cy="415.1" r="5.1" fill="#f8b5b6"/><circle cx="366.2" cy="433.7" r="5.1" fill="#ffffff"/><circle cx="397.3" cy="444.3" r="5.1" fill="#f48a8d"/><circle cx="473.6" cy="447.8" r="5.1" fill="#f48285"/><circle cx="453.6" cy="445.3" r="5.1" fill="#f48285"/><circle cx="206.6" cy="554.8" r="5.1" fill="#ffffff"/><circle cx="302.5" cy="571.4" r="5.1" fill="#f37579"/><circle cx="198.9" cy="271.7" r="4.7" fill="#ffffff"/><circle cx="222.4" cy="408.2" r="4.7" fill="#ffffff"/><circle cx="318.7" cy="292.1" r="4.7" fill="#ed2028"/><circle cx="437.5" cy="279.1" r="4.7" fill="#ffffff"/><circle cx="347.9" cy="326.5" r="4.7" fill="#ee353c"/><circle cx="357.8" cy="337.5" r="4.7" fill="#f48a8d"/><circle cx="294.7" cy="347.6" r="4.7" fill="#ffffff"/><circle cx="315.5" cy="349.1" r="4.7" fill="#ffffff"/><circle cx="320.7" cy="351.6" r="4.7" fill="#f48a8d"/><circle cx="316.9" cy="386.8" r="4.7" fill="#f48a8d"/><circle cx="356.7" cy="464.3" r="4.7" fill="#f6a0a2"/><circle cx="78.8" cy="336.6" r="4.5" fill="#ffffff"/><circle cx="503.2" cy="163.8" r="4.5" fill="#f15f64"/><circle cx="532.4" cy="465.2" r="4.5" fill="#e12027"/><circle cx="458.9" cy="562.7" r="4.5" fill="#ffffff"/><circle cx="168.8" cy="431.4" r="4.1" fill="#ffffff"/><circle cx="433.9" cy="255.1" r="4.1" fill="#ffffff"/><circle cx="579.1" cy="246.7" r="4.1" fill="#ffffff"/><circle cx="331" cy="309.9" r="4.1" fill="#f48a8d"/><circle cx="413.5" cy="344.2" r="4.1" fill="#ffffff"/><circle cx="380.3" cy="372.4" r="4.1" fill="#ffffff"/><circle cx="392.3" cy="432" r="4.1" fill="#f48a8d"/><circle cx="443.7" cy="380.8" r="4.1" fill="#ffffff"/><circle cx="269.5" cy="500.6" r="4.1" fill="#ffffff"/><circle cx="372.2" cy="526.7" r="4.1" fill="#ffffff"/><circle cx="353.9" cy="537.3" r="4.1" fill="#f37579"/><circle cx="395.1" cy="252.3" r="3.6" fill="#ed2028"/><circle cx="359.2" cy="437.7" r="3.6" fill="#ffffff"/><circle cx="397.3" cy="392.8" r="3.3" fill="#ed2028"/><circle cx="289.4" cy="401" r="3.3" fill="#ffffff"/><circle cx="421.7" cy="433.7" r="3.3" fill="#f37579"/><circle cx="399.1" cy="352.2" r="3.1" fill="#ffffff"/><circle cx="231.4" cy="554.2" r="3.1" fill="#ffffff"/><circle cx="331" cy="332.2" r="2.6" fill="#f48a8d"/><circle cx="305.6" cy="331.5" r="2.6" fill="#f04a50"/><circle cx="293.3" cy="358.3" r="2.6" fill="#ffffff"/><circle cx="313.3" cy="405.5" r="2.6" fill="#ffffff"/><circle cx="350" cy="437.3" r="2.6" fill="#f48a8d"/><circle cx="300.6" cy="444.5" r="2.6" fill="#ffffff"/><circle cx="384.6" cy="464.5" r="2.6" fill="#ffffff"/><circle cx="314.6" cy="519.5" r="2.6" fill="#ffffff"/><circle cx="230.8" cy="377.8" r="2.1" fill="#ffffff"/><circle cx="303.5" cy="388.3" r="2.1" fill="#ffffff"/></g></g><g transform="translate(589 1430)"><use href="#net"/><g stroke="#000" stroke-width="2.9"><circle cx="354.2" cy="389.3" r="14.6" fill="#ed2028"/><circle cx="487" cy="170.5" r="10.6" fill="#8a161a"/><circle cx="377.9" cy="295.3" r="10.1" fill="#eb2028"/><circle cx="285.3" cy="527.4" r="10.1" fill="#ac1b21"/><circle cx="265.4" cy="404.3" r="9.3" fill="#ed2028"/><circle cx="422.3" cy="396.4" r="9" fill="#c51e25"/><circle cx="251.8" cy="608.8" r="9" fill="#ed2028"/><circle cx="398.7" cy="260.8" r="8.7" fill="#eb2028"/><circle cx="410.5" cy="305.5" r="8.7" fill="#ffffff"/><circle cx="442.8" cy="361.1" r="8.7" fill="#ca1e25"/><circle cx="276.5" cy="384" r="8.7" fill="#fef5f5"/><circle cx="302.4" cy="416" r="8.7" fill="#ed2028"/><circle cx="328.9" cy="414.7" r="8.7" fill="#feeeee"/><circle cx="409.3" cy="449.3" r="8.7" fill="#a41a1f"/><circle cx="357.4" cy="486.8" r="8.7" fill="#f48a8d"/><circle cx="497.6" cy="459.6" r="8.7" fill="#dd1f27"/><circle cx="301.2" cy="554.8" r="8.7" fill="#f0575c"/><circle cx="137.3" cy="256.6" r="8.3" fill="#ca1e25"/><circle cx="421.9" cy="363.4" r="8.3" fill="#c51e25"/><circle cx="527.9" cy="440.8" r="8.3" fill="#ca1e25"/><circle cx="216.4" cy="372.9" r="8.2" fill="#f37579"/><circle cx="456.3" cy="478" r="8.1" fill="#9c191e"/><circle cx="555.7" cy="220.2" r="7.8" fill="#9c191e"/><circle cx="526.5" cy="250.9" r="7.8" fill="#c51e25"/><circle cx="355.7" cy="309.6" r="7.8" fill="#ffffff"/><circle cx="306" cy="453" r="7.8" fill="#9c191e"/><circle cx="271.5" cy="579.6" r="7.8" fill="#ed2028"/><circle cx="397.3" cy="517.1" r="7.8" fill="#97181d"/><circle cx="150" cy="308.3" r="7.6" fill="#9c191e"/><circle cx="434.4" cy="145.8" r="7.6" fill="#97181d"/><circle cx="531.8" cy="214" r="7.6" fill="#e12027"/><circle cx="415.6" cy="419.4" r="7.6" fill="#ca1e25"/><circle cx="424.5" cy="441.8" r="7.6" fill="#ed2028"/><circle cx="328.9" cy="462.5" r="7.6" fill="#f37579"/><circle cx="317.4" cy="636" r="7.6" fill="#e12027"/><circle cx="389.8" cy="535.5" r="7.6" fill="#f48285"/><circle cx="517.5" cy="509.5" r="7.6" fill="#ed2028"/><circle cx="249.2" cy="319.7" r="7.5" fill="#f0575c"/><circle cx="324.8" cy="534" r="7.4" fill="#ed2028"/><circle cx="131.6" cy="284.1" r="7.3" fill="#ca1e25"/><circle cx="261.4" cy="219.9" r="7.3" fill="#ed2028"/><circle cx="470.8" cy="120.9" r="7.3" fill="#92171c"/><circle cx="343" cy="335.7" r="7.3" fill="#f0575c"/><circle cx="402.2" cy="420.3" r="7.3" fill="#f48285"/><circle cx="375.4" cy="441.9" r="7.3" fill="#ed2028"/><circle cx="482.1" cy="362.5" r="7.3" fill="#ce1f25"/><circle cx="110.8" cy="248.4" r="6.9" fill="#ca1e25"/><circle cx="238.5" cy="382.6" r="6.9" fill="#f15f64"/><circle cx="223.1" cy="396.9" r="6.9" fill="#ffffff"/><circle cx="191.8" cy="405.3" r="6.9" fill="#ffffff"/><circle cx="351.1" cy="265.7" r="6.9" fill="#a41a1f"/><circle cx="373.7" cy="194.8" r="6.9" fill="#c51e25"/><circle cx="382.2" cy="253.7" r="6.9" fill="#ca1e25"/><circle cx="462.7" cy="206.5" r="6.9" fill="#ed2028"/><circle cx="370.5" cy="336.1" r="6.9" fill="#f37579"/><circle cx="400.8" cy="334.7" r="6.9" fill="#ffffff"/><circle cx="438.5" cy="338.5" r="6.9" fill="#f0575c"/><circle cx="288.7" cy="367.4" r="6.9" fill="#f04a50"/><circle cx="303.5" cy="379.9" r="6.9" fill="#ed2028"/><circle cx="344.1" cy="371.7" r="6.9" fill="#ed2028"/><circle cx="286.2" cy="437.2" r="6.9" fill="#ee353c"/><circle cx="432.6" cy="434" r="6.9" fill="#be1e24"/><circle cx="374.2" cy="469.3" r="6.9" fill="#f37579"/><circle cx="566.3" cy="347" r="6.9" fill="#a41a1f"/><circle cx="470.4" cy="434.9" r="6.9" fill="#9c191e"/><circle cx="513.4" cy="435.1" r="6.9" fill="#9c191e"/><circle cx="234.2" cy="596.1" r="6.9" fill="#e62027"/><circle cx="343.3" cy="637.7" r="6.9" fill="#ce1f25"/><circle cx="364.4" cy="510.1" r="6.9" fill="#eb2028"/><circle cx="480.5" cy="589.8" r="6.9" fill="#9c191e"/><circle cx="500.8" cy="606.7" r="6.9" fill="#a41a1f"/><circle cx="221.9" cy="282.7" r="6.4" fill="#f37579"/><circle cx="83.3" cy="317.5" r="6.4" fill="#dd1f27"/><circle cx="207.3" cy="385.2" r="6.4" fill="#ed2028"/><circle cx="170.9" cy="440.2" r="6.4" fill="#ac1b21"/><circle cx="343.5" cy="473.3" r="6.4" fill="#fde5e5"/><circle cx="448.9" cy="460.5" r="6.4" fill="#e12027"/><circle cx="234.8" cy="536.2" r="6.4" fill="#ed2028"/><circle cx="432.1" cy="517.5" r="6.4" fill="#a41a1f"/><circle cx="505.7" cy="495.4" r="6.4" fill="#ed2028"/><circle cx="232.2" cy="368.5" r="6.3" fill="#a41a1f"/><circle cx="336" cy="501.6" r="6.3" fill="#f37579"/><circle cx="113.6" cy="298.8" r="6.1" fill="#dd1f27"/><circle cx="208.3" cy="427.9" r="6.1" fill="#a41a1f"/><circle cx="320.1" cy="248.4" r="6.1" fill="#ffffff"/><circle cx="386" cy="194.2" r="6.1" fill="#ca1e25"/><circle cx="348.6" cy="318.8" r="6.1" fill="#b11c22"/><circle cx="381.7" cy="342.8" r="6.1" fill="#dd1f27"/><circle cx="385" cy="358.3" r="6.1" fill="#c51e25"/><circle cx="391.6" cy="402.7" r="6.1" fill="#a41a1f"/><circle cx="297.1" cy="411.9" r="6.1" fill="#e12027"/><circle cx="357.1" cy="413.7" r="6.1" fill="#f15f64"/><circle cx="342.7" cy="431.6" r="6.1" fill="#d61f26"/><circle cx="263.3" cy="463" r="6.1" fill="#e62027"/><circle cx="562.7" cy="336.4" r="6.1" fill="#a41a1f"/><circle cx="316.9" cy="208.6" r="5.9" fill="#ffffff"/><circle cx="310.2" cy="300" r="5.9" fill="#f04a50"/><circle cx="484.6" cy="131.3" r="5.9" fill="#a41a1f"/><circle cx="461.2" cy="150.1" r="5.9" fill="#9c191e"/><circle cx="480.6" cy="291.5" r="5.9" fill="#ed2028"/><circle cx="505.3" cy="295.3" r="5.9" fill="#ed2028"/><circle cx="369.8" cy="382.7" r="5.9" fill="#f04a50"/><circle cx="268" cy="431.5" r="5.9" fill="#ed2028"/><circle cx="320.4" cy="456.3" r="5.9" fill="#f15f64"/><circle cx="220.7" cy="554.8" r="5.9" fill="#a41a1f"/><circle cx="196.4" cy="571.7" r="5.9" fill="#a41a1f"/><circle cx="418.4" cy="548.2" r="5.9" fill="#b61d23"/><circle cx="138.7" cy="293.5" r="5.4" fill="#b11c22"/><circle cx="93.6" cy="327.7" r="5.4" fill="#e12027"/><circle cx="542.4" cy="197.3" r="5.4" fill="#a41a1f"/><circle cx="448.6" cy="221.3" r="5.4" fill="#ed2028"/><circle cx="328.9" cy="316.4" r="5.4" fill="#fac9ca"/><circle cx="395.1" cy="344.2" r="5.4" fill="#e12027"/><circle cx="407.1" cy="347" r="5.4" fill="#be1e24"/><circle cx="374.7" cy="366" r="5.4" fill="#f6a0a2"/><circle cx="280.2" cy="370.3" r="5.4" fill="#ed2028"/><circle cx="389.9" cy="387.5" r="5.4" fill="#f37579"/><circle cx="423.4" cy="387.4" r="5.4" fill="#ca1e25"/><circle cx="488.4" cy="381.3" r="5.4" fill="#b61d23"/><circle cx="243.2" cy="535.9" r="5.4" fill="#ac1b21"/><circle cx="289.2" cy="578.9" r="5.4" fill="#ed2028"/><circle cx="411" cy="553.4" r="5.4" fill="#b61d23"/><circle cx="494.9" cy="621.5" r="5.4" fill="#a41a1f"/><circle cx="408.5" cy="361.1" r="5.1" fill="#f48a8d"/><circle cx="334.2" cy="381.3" r="5.1" fill="#e12027"/><circle cx="364.1" cy="401" r="5.1" fill="#f15f64"/><circle cx="267.5" cy="415.1" r="5.1" fill="#e12027"/><circle cx="366.2" cy="433.7" r="5.1" fill="#be1e24"/><circle cx="397.3" cy="444.3" r="5.1" fill="#ed2028"/><circle cx="473.6" cy="447.8" r="5.1" fill="#a41a1f"/><circle cx="453.6" cy="445.3" r="5.1" fill="#d61f26"/><circle cx="206.6" cy="554.8" r="5.1" fill="#ed2028"/><circle cx="302.5" cy="571.4" r="5.1" fill="#ed2028"/><circle cx="198.9" cy="271.7" r="4.7" fill="#d61f26"/><circle cx="222.4" cy="408.2" r="4.7" fill="#fbd6d6"/><circle cx="318.7" cy="292.1" r="4.7" fill="#f15f64"/><circle cx="437.5" cy="279.1" r="4.7" fill="#ffffff"/><circle cx="347.9" cy="326.5" r="4.7" fill="#be1e24"/><circle cx="357.8" cy="337.5" r="4.7" fill="#ed2028"/><circle cx="294.7" cy="347.6" r="4.7" fill="#ed2028"/><circle cx="315.5" cy="349.1" r="4.7" fill="#ffffff"/><circle cx="320.7" cy="351.6" r="4.7" fill="#ed2028"/><circle cx="316.9" cy="386.8" r="4.7" fill="#ed2028"/><circle cx="356.7" cy="464.3" r="4.7" fill="#ed2028"/><circle cx="78.8" cy="336.6" r="4.5" fill="#e62027"/><circle cx="503.2" cy="163.8" r="4.5" fill="#a41a1f"/><circle cx="532.4" cy="465.2" r="4.5" fill="#ed2028"/><circle cx="458.9" cy="562.7" r="4.5" fill="#a41a1f"/><circle cx="168.8" cy="431.4" r="4.1" fill="#a41a1f"/><circle cx="433.9" cy="255.1" r="4.1" fill="#ed2028"/><circle cx="579.1" cy="246.7" r="4.1" fill="#a41a1f"/><circle cx="331" cy="309.9" r="4.1" fill="#fcdede"/><circle cx="413.5" cy="344.2" r="4.1" fill="#e12027"/><circle cx="380.3" cy="372.4" r="4.1" fill="#e12027"/><circle cx="392.3" cy="432" r="4.1" fill="#f15f64"/><circle cx="443.7" cy="380.8" r="4.1" fill="#b61d23"/><circle cx="269.5" cy="500.6" r="4.1" fill="#b11c22"/><circle cx="372.2" cy="526.7" r="4.1" fill="#ffffff"/><circle cx="353.9" cy="537.3" r="4.1" fill="#ed2028"/><circle cx="395.1" cy="252.3" r="3.6" fill="#ed2028"/><circle cx="359.2" cy="437.7" r="3.6" fill="#ca1e25"/><circle cx="397.3" cy="392.8" r="3.3" fill="#e12027"/><circle cx="289.4" cy="401" r="3.3" fill="#ed2028"/><circle cx="421.7" cy="433.7" r="3.3" fill="#ed2028"/><circle cx="399.1" cy="352.2" r="3.1" fill="#ed2028"/><circle cx="231.4" cy="554.2" r="3.1" fill="#ed2028"/><circle cx="331" cy="332.2" r="2.6" fill="#ee353c"/><circle cx="305.6" cy="331.5" r="2.6" fill="#ed2028"/><circle cx="293.3" cy="358.3" r="2.6" fill="#ed2028"/><circle cx="313.3" cy="405.5" r="2.6" fill="#ed2028"/><circle cx="350" cy="437.3" r="2.6" fill="#ed2028"/><circle cx="300.6" cy="444.5" r="2.6" fill="#ca1e25"/><circle cx="384.6" cy="464.5" r="2.6" fill="#e12027"/><circle cx="314.6" cy="519.5" r="2.6" fill="#e12027"/><circle cx="230.8" cy="377.8" r="2.1" fill="#ffffff"/><circle cx="303.5" cy="388.3" r="2.1" fill="#ed2028"/></g></g><g><text x="333" y="69.5" font-size="36" text-anchor="middle" textLength="110" lengthAdjust="spacingAndGlyphs">Patient</text><text x="332.5" y="115.5" font-size="36" text-anchor="middle" textLength="125" lengthAdjust="spacingAndGlyphs">Warmth</text><text x="924" y="69.5" font-size="36" text-anchor="middle" textLength="148" lengthAdjust="spacingAndGlyphs">Therapist</text><text x="924" y="115.5" font-size="36" text-anchor="middle" textLength="125" lengthAdjust="spacingAndGlyphs">Warmth</text><text x="332.5" y="743.8" font-size="36" text-anchor="middle" textLength="111" lengthAdjust="spacingAndGlyphs">Patient</text><text x="332" y="789.5" font-size="36" text-anchor="middle" textLength="184.5" lengthAdjust="spacingAndGlyphs">Dominance</text><text x="924" y="743.8" font-size="36" text-anchor="middle" textLength="148" lengthAdjust="spacingAndGlyphs">Therapist</text><text x="924" y="789.5" font-size="36" text-anchor="middle" textLength="184.5" lengthAdjust="spacingAndGlyphs">Dominance</text><text x="332" y="1473.2" font-size="36" text-anchor="middle" textLength="225" lengthAdjust="spacingAndGlyphs">Confrontation</text><text x="332" y="1519.3" font-size="36" text-anchor="middle" textLength="127.5" lengthAdjust="spacingAndGlyphs">Rupture</text><text x="921" y="1473.2" font-size="36" text-anchor="middle" textLength="183" lengthAdjust="spacingAndGlyphs">Withdrawal</text><text x="923" y="1519.3" font-size="36" text-anchor="middle" textLength="127.5" lengthAdjust="spacingAndGlyphs">Rupture</text><text x="83.2" y="67.8" font-size="36.5" text-anchor="middle" textLength="47.5" lengthAdjust="spacingAndGlyphs" font-weight="bold">(a)</text><text x="83.4" y="1470.8" font-size="36.5" text-anchor="middle" textLength="49.5" lengthAdjust="spacingAndGlyphs" font-weight="bold">(b)</text><text x="1278.5" y="564" font-size="34" text-anchor="middle" textLength="81" lengthAdjust="spacingAndGlyphs">+250</text><text x="1278.5" y="927" font-size="34" text-anchor="middle" textLength="70" lengthAdjust="spacingAndGlyphs">-250</text><text x="1357.5" y="733" font-size="38.5" text-anchor="middle" textLength="170" lengthAdjust="spacingAndGlyphs" transform="rotate(-90 1357.5 733)">CAID score</text><text x="1281" y="1636.5" font-size="34.5" text-anchor="middle" textLength="16.5" lengthAdjust="spacingAndGlyphs">3</text><text x="1280" y="2000" font-size="34.5" text-anchor="middle" textLength="12" lengthAdjust="spacingAndGlyphs">1</text><text x="1360.5" y="1806" font-size="38.5" text-anchor="middle" textLength="222" lengthAdjust="spacingAndGlyphs" transform="rotate(-90 1360.5 1806)">Rupture Score</text></g>
</svg>
</body></html>
